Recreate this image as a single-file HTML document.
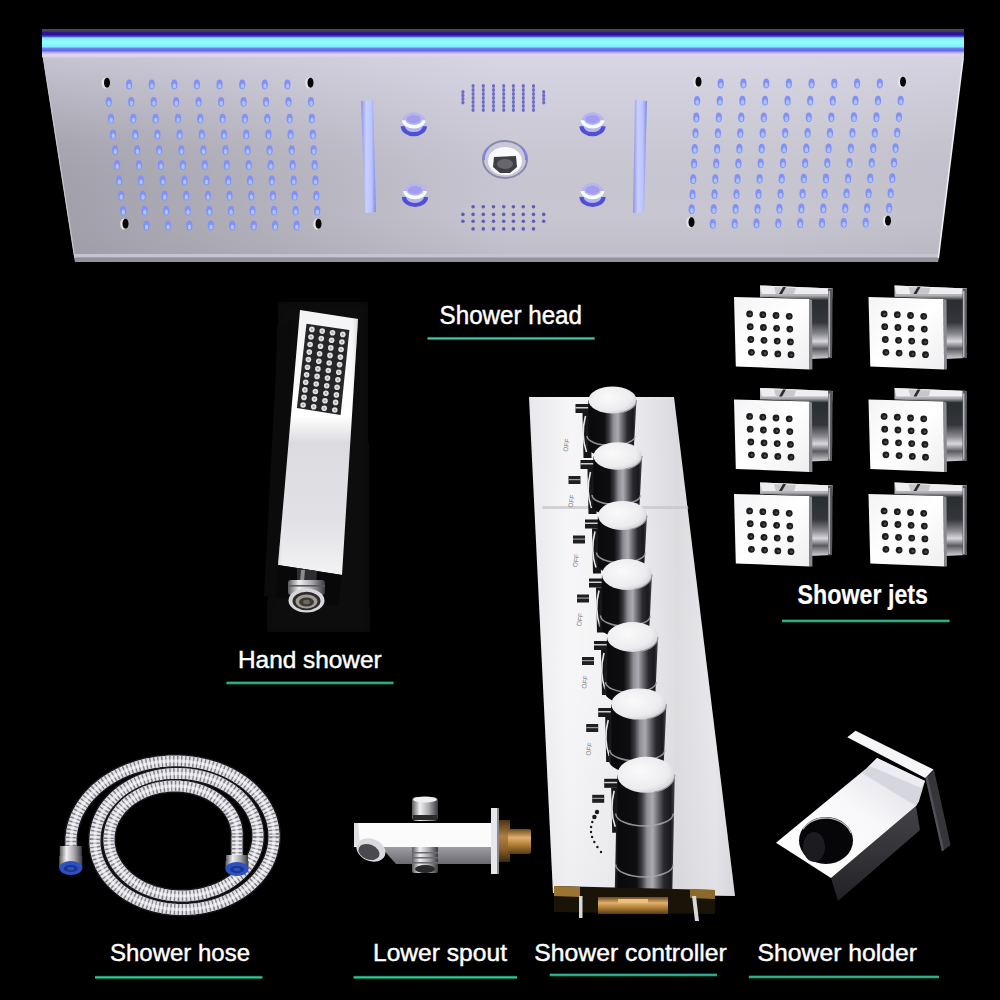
<!DOCTYPE html>
<html><head><meta charset="utf-8"><title>Shower set</title>
<style>
html,body{margin:0;padding:0;background:#000;width:1000px;height:1000px;overflow:hidden}
svg{position:absolute;left:0;top:0;display:block}
.lb{font-family:"Liberation Sans",sans-serif;fill:#fff}
</style></head><body>
<svg width="1000" height="1000" viewBox="0 0 1000 1000">
<defs>
<linearGradient id="panelH" x1="0" y1="0" x2="1" y2="0">
 <stop offset="0" stop-color="#a09ea8"/>
 <stop offset="0.18" stop-color="#aeacb6"/>
 <stop offset="0.5" stop-color="#c8c6d2"/>
 <stop offset="0.8" stop-color="#c8c6d0"/>
 <stop offset="1" stop-color="#c2c0ca"/>
</linearGradient>
<linearGradient id="panelV" x1="0" y1="0" x2="0" y2="1">
 <stop offset="0" stop-color="#e4e2f4" stop-opacity="0.55"/>
 <stop offset="0.4" stop-color="#e0e0f0" stop-opacity="0.12"/>
 <stop offset="0.75" stop-color="#9a98a4" stop-opacity="0"/>
 <stop offset="1" stop-color="#8a8890" stop-opacity="0.18"/>
</linearGradient>
<linearGradient id="strip" x1="0" y1="0" x2="0" y2="1">
 <stop offset="0" stop-color="#4e4a60"/>
 <stop offset="0.08" stop-color="#44385e"/>
 <stop offset="0.12" stop-color="#30188e"/>
 <stop offset="0.2" stop-color="#2a10a0"/>
 <stop offset="0.26" stop-color="#4050d8"/>
 <stop offset="0.31" stop-color="#80e6ff"/>
 <stop offset="0.45" stop-color="#94fffa"/>
 <stop offset="0.62" stop-color="#80f0ff"/>
 <stop offset="0.68" stop-color="#6a80f2"/>
 <stop offset="0.76" stop-color="#6a62ec"/>
 <stop offset="0.83" stop-color="#bab2f0"/>
 <stop offset="0.9" stop-color="#dcd8f0"/>
 <stop offset="1" stop-color="#d4d2e2"/>
</linearGradient>
<radialGradient id="led" cx="0.5" cy="0.6" r="0.6">
 <stop offset="0" stop-color="#b4c8ff"/>
 <stop offset="0.6" stop-color="#8a96ff"/>
 <stop offset="1" stop-color="#8a8cf0" stop-opacity="0.2"/>
</radialGradient>
<linearGradient id="bar" x1="0" y1="0" x2="1" y2="0">
 <stop offset="0" stop-color="#8a90e8"/>
 <stop offset="0.35" stop-color="#c8d0ff"/>
 <stop offset="0.7" stop-color="#bcc4ff"/>
 <stop offset="1" stop-color="#8088e0"/>
</linearGradient>
<radialGradient id="moon" cx="0.5" cy="0.3" r="0.7">
 <stop offset="0" stop-color="#ffffff"/>
 <stop offset="0.5" stop-color="#9aa6ff"/>
 <stop offset="1" stop-color="#4a4ad0"/>
</radialGradient>
<linearGradient id="hsBody" x1="0" y1="0" x2="0" y2="1">
 <stop offset="0" stop-color="#f4f4f6"/>
 <stop offset="0.4" stop-color="#ffffff"/>
 <stop offset="0.5" stop-color="#dcdce0"/>
 <stop offset="0.8" stop-color="#e2e2e6"/>
 <stop offset="1" stop-color="#f2f2f4"/>
</linearGradient>
<radialGradient id="hsDot" cx="0.45" cy="0.45" r="0.6">
 <stop offset="0" stop-color="#9a9a9a"/>
 <stop offset="0.45" stop-color="#e8e8e8"/>
 <stop offset="1" stop-color="#bdbdbd"/>
</radialGradient>
<linearGradient id="ctrl" x1="0" y1="0" x2="1" y2="0">
 <stop offset="0" stop-color="#e8e8ec"/>
 <stop offset="0.2" stop-color="#f6f6f8"/>
 <stop offset="0.5" stop-color="#ececf0"/>
 <stop offset="0.72" stop-color="#dadade"/>
 <stop offset="0.9" stop-color="#e6e6ea"/>
 <stop offset="1" stop-color="#d8d8dc"/>
</linearGradient>
<linearGradient id="knob" x1="0" y1="0" x2="1" y2="0">
 <stop offset="0" stop-color="#2a2a2c"/>
 <stop offset="0.06" stop-color="#0a0a0c"/>
 <stop offset="0.36" stop-color="#0e0e10"/>
 <stop offset="0.45" stop-color="#3a3a40"/>
 <stop offset="0.54" stop-color="#8e8e94"/>
 <stop offset="0.63" stop-color="#aaaab0"/>
 <stop offset="0.72" stop-color="#6a6a70"/>
 <stop offset="0.82" stop-color="#2a2a2e"/>
 <stop offset="0.93" stop-color="#1a1a1e"/>
 <stop offset="1" stop-color="#48484c"/>
</linearGradient>
<radialGradient id="knobTop" cx="0.4" cy="0.4" r="0.7">
 <stop offset="0" stop-color="#fafafa"/>
 <stop offset="0.7" stop-color="#ececef"/>
 <stop offset="1" stop-color="#c8c8cc"/>
</radialGradient>
<linearGradient id="jetBackV" x1="0" y1="0" x2="0" y2="1">
 <stop offset="0" stop-color="#d8d8dc"/>
 <stop offset="0.14" stop-color="#b0b0b4"/>
 <stop offset="0.2" stop-color="#2a2e30"/>
 <stop offset="0.5" stop-color="#34363a"/>
 <stop offset="0.66" stop-color="#8a8a90"/>
 <stop offset="0.76" stop-color="#d8d8dc"/>
 <stop offset="0.86" stop-color="#5a5a60"/>
 <stop offset="1" stop-color="#d0d0d4"/>
</linearGradient>
<linearGradient id="hsBodyH" x1="0" y1="0" x2="1" y2="0">
 <stop offset="0" stop-color="#c0c0c4" stop-opacity="0.5"/>
 <stop offset="0.08" stop-color="#ffffff" stop-opacity="0"/>
 <stop offset="0.9" stop-color="#ffffff" stop-opacity="0"/>
 <stop offset="1" stop-color="#b0b0b4" stop-opacity="0.5"/>
</linearGradient>
<linearGradient id="ctrlV" x1="0" y1="0" x2="0" y2="1">
 <stop offset="0" stop-color="#ffffff" stop-opacity="0"/>
 <stop offset="0.5" stop-color="#ffffff" stop-opacity="0.1"/>
 <stop offset="1" stop-color="#d0d0d4" stop-opacity="0.2"/>
</linearGradient>
<linearGradient id="spoutUnder" x1="0" y1="0" x2="0" y2="1">
 <stop offset="0" stop-color="#a0a0a6"/>
 <stop offset="1" stop-color="#6a6a70"/>
</linearGradient>
<linearGradient id="brassD" x1="0" y1="0" x2="0" y2="1">
 <stop offset="0" stop-color="#4a3412"/>
 <stop offset="0.4" stop-color="#b08040"/>
 <stop offset="0.7" stop-color="#8a6028"/>
 <stop offset="1" stop-color="#3a280c"/>
</linearGradient>
<linearGradient id="jetFace" x1="0" y1="0" x2="1" y2="1">
 <stop offset="0" stop-color="#f4f4f6"/>
 <stop offset="0.5" stop-color="#ffffff"/>
 <stop offset="1" stop-color="#eeeef0"/>
</linearGradient>
<linearGradient id="brass" x1="0" y1="0" x2="0" y2="1">
 <stop offset="0" stop-color="#6a4a1c"/>
 <stop offset="0.35" stop-color="#e0b070"/>
 <stop offset="0.6" stop-color="#b8843a"/>
 <stop offset="1" stop-color="#5a3c14"/>
</linearGradient>
<linearGradient id="chromeV" x1="0" y1="0" x2="0" y2="1">
 <stop offset="0" stop-color="#6a6a6e"/>
 <stop offset="0.3" stop-color="#f4f4f6"/>
 <stop offset="0.6" stop-color="#b4b4b8"/>
 <stop offset="1" stop-color="#4a4a4e"/>
</linearGradient>
<linearGradient id="chromeH" x1="0" y1="0" x2="1" y2="0">
 <stop offset="0" stop-color="#5a5a5e"/>
 <stop offset="0.3" stop-color="#f0f0f2"/>
 <stop offset="0.65" stop-color="#a8a8ac"/>
 <stop offset="1" stop-color="#3a3a3e"/>
</linearGradient>
<linearGradient id="holderTop" x1="0" y1="1" x2="1" y2="0">
 <stop offset="0" stop-color="#ffffff"/>
 <stop offset="0.6" stop-color="#f8f8fa"/>
 <stop offset="1" stop-color="#dcdce4"/>
</linearGradient>
<linearGradient id="holderFront" x1="0" y1="0" x2="0" y2="1">
 <stop offset="0" stop-color="#424246"/>
 <stop offset="0.5" stop-color="#343438"/>
 <stop offset="1" stop-color="#222226"/>
</linearGradient>
<linearGradient id="gline" x1="0" y1="0" x2="0" y2="1">
 <stop offset="0" stop-color="#10604a"/>
 <stop offset="0.3" stop-color="#2aa888"/>
 <stop offset="0.5" stop-color="#4cc8a8"/>
 <stop offset="0.75" stop-color="#12905e"/>
 <stop offset="1" stop-color="#05502e"/>
</linearGradient>
<filter id="soft" x="-20%" y="-20%" width="140%" height="140%"><feGaussianBlur stdDeviation="6"/></filter>
</defs>
<rect width="1000" height="1000" fill="#000"/>

<polygon points="43,57 963,57 938,262 75,262" fill="url(#panelH)"/>
<polygon points="43,57 963,57 938,262 75,262" fill="url(#panelV)"/>
<polygon points="74.1,254 938.8,254 938.5,257.5 74.7,257.5" fill="#c6c4ce"/>
<polygon points="74.7,257.5 938.5,257.5 938,262 75,262" fill="#94929c"/>
<rect x="42" y="29" width="922" height="28.5" fill="url(#strip)"/>
<path d="M963.2,57.5 L938.3,258" stroke="#eeeef4" stroke-width="1.6" fill="none"/>
<path d="M43.3,57.5 L74.8,258" stroke="#c8c6ce" stroke-width="1.2" fill="none"/>
<ellipse cx="105.3" cy="83.0" rx="3.6" ry="5.6" fill="#e4e4ea"/>
<ellipse cx="107.0" cy="82.7" rx="3" ry="5" fill="#060606"/>
<ellipse cx="129.1" cy="84.5" rx="3.1" ry="4.9" fill="#8490fa"/>
<ellipse cx="129.3" cy="86.0" rx="1.7" ry="2.6" fill="#a8c6ff"/>
<ellipse cx="151.7" cy="84.5" rx="3.1" ry="4.9" fill="#8490fa"/>
<ellipse cx="151.9" cy="86.0" rx="1.7" ry="2.6" fill="#a8c6ff"/>
<ellipse cx="174.3" cy="84.5" rx="3.1" ry="4.9" fill="#8490fa"/>
<ellipse cx="174.5" cy="86.0" rx="1.7" ry="2.6" fill="#a8c6ff"/>
<ellipse cx="196.9" cy="84.5" rx="3.1" ry="4.9" fill="#8490fa"/>
<ellipse cx="197.1" cy="86.0" rx="1.7" ry="2.6" fill="#a8c6ff"/>
<ellipse cx="219.6" cy="84.5" rx="3.1" ry="4.9" fill="#8490fa"/>
<ellipse cx="219.8" cy="86.0" rx="1.7" ry="2.6" fill="#a8c6ff"/>
<ellipse cx="242.2" cy="84.5" rx="3.1" ry="4.9" fill="#8490fa"/>
<ellipse cx="242.4" cy="86.0" rx="1.7" ry="2.6" fill="#a8c6ff"/>
<ellipse cx="264.8" cy="84.5" rx="3.1" ry="4.9" fill="#8490fa"/>
<ellipse cx="265.0" cy="86.0" rx="1.7" ry="2.6" fill="#a8c6ff"/>
<ellipse cx="287.4" cy="84.5" rx="3.1" ry="4.9" fill="#8490fa"/>
<ellipse cx="287.6" cy="86.0" rx="1.7" ry="2.6" fill="#a8c6ff"/>
<ellipse cx="308.8" cy="83.0" rx="3.6" ry="5.6" fill="#e4e4ea"/>
<ellipse cx="310.5" cy="82.7" rx="3" ry="5" fill="#060606"/>
<ellipse cx="108.8" cy="101.8" rx="3.1" ry="4.9" fill="#8490fa"/>
<ellipse cx="109.0" cy="103.3" rx="1.7" ry="2.6" fill="#a8c6ff"/>
<ellipse cx="131.2" cy="101.8" rx="3.1" ry="4.9" fill="#8490fa"/>
<ellipse cx="131.4" cy="103.3" rx="1.7" ry="2.6" fill="#a8c6ff"/>
<ellipse cx="153.7" cy="101.8" rx="3.1" ry="4.9" fill="#8490fa"/>
<ellipse cx="153.9" cy="103.3" rx="1.7" ry="2.6" fill="#a8c6ff"/>
<ellipse cx="176.2" cy="101.8" rx="3.1" ry="4.9" fill="#8490fa"/>
<ellipse cx="176.4" cy="103.3" rx="1.7" ry="2.6" fill="#a8c6ff"/>
<ellipse cx="198.6" cy="101.8" rx="3.1" ry="4.9" fill="#8490fa"/>
<ellipse cx="198.8" cy="103.3" rx="1.7" ry="2.6" fill="#a8c6ff"/>
<ellipse cx="221.1" cy="101.8" rx="3.1" ry="4.9" fill="#8490fa"/>
<ellipse cx="221.3" cy="103.3" rx="1.7" ry="2.6" fill="#a8c6ff"/>
<ellipse cx="243.6" cy="101.8" rx="3.1" ry="4.9" fill="#8490fa"/>
<ellipse cx="243.8" cy="103.3" rx="1.7" ry="2.6" fill="#a8c6ff"/>
<ellipse cx="266.0" cy="101.8" rx="3.1" ry="4.9" fill="#8490fa"/>
<ellipse cx="266.2" cy="103.3" rx="1.7" ry="2.6" fill="#a8c6ff"/>
<ellipse cx="288.5" cy="101.8" rx="3.1" ry="4.9" fill="#8490fa"/>
<ellipse cx="288.7" cy="103.3" rx="1.7" ry="2.6" fill="#a8c6ff"/>
<ellipse cx="311.0" cy="101.8" rx="3.1" ry="4.9" fill="#8490fa"/>
<ellipse cx="311.2" cy="103.3" rx="1.7" ry="2.6" fill="#a8c6ff"/>
<ellipse cx="111.0" cy="118.6" rx="3.1" ry="4.9" fill="#8490fa"/>
<ellipse cx="111.2" cy="120.1" rx="1.7" ry="2.6" fill="#a8c6ff"/>
<ellipse cx="133.3" cy="118.6" rx="3.1" ry="4.9" fill="#8490fa"/>
<ellipse cx="133.5" cy="120.1" rx="1.7" ry="2.6" fill="#a8c6ff"/>
<ellipse cx="155.6" cy="118.6" rx="3.1" ry="4.9" fill="#8490fa"/>
<ellipse cx="155.8" cy="120.1" rx="1.7" ry="2.6" fill="#a8c6ff"/>
<ellipse cx="178.0" cy="118.6" rx="3.1" ry="4.9" fill="#8490fa"/>
<ellipse cx="178.2" cy="120.1" rx="1.7" ry="2.6" fill="#a8c6ff"/>
<ellipse cx="200.3" cy="118.6" rx="3.1" ry="4.9" fill="#8490fa"/>
<ellipse cx="200.5" cy="120.1" rx="1.7" ry="2.6" fill="#a8c6ff"/>
<ellipse cx="222.6" cy="118.6" rx="3.1" ry="4.9" fill="#8490fa"/>
<ellipse cx="222.8" cy="120.1" rx="1.7" ry="2.6" fill="#a8c6ff"/>
<ellipse cx="244.9" cy="118.6" rx="3.1" ry="4.9" fill="#8490fa"/>
<ellipse cx="245.1" cy="120.1" rx="1.7" ry="2.6" fill="#a8c6ff"/>
<ellipse cx="267.3" cy="118.6" rx="3.1" ry="4.9" fill="#8490fa"/>
<ellipse cx="267.5" cy="120.1" rx="1.7" ry="2.6" fill="#a8c6ff"/>
<ellipse cx="289.6" cy="118.6" rx="3.1" ry="4.9" fill="#8490fa"/>
<ellipse cx="289.8" cy="120.1" rx="1.7" ry="2.6" fill="#a8c6ff"/>
<ellipse cx="311.9" cy="118.6" rx="3.1" ry="4.9" fill="#8490fa"/>
<ellipse cx="312.1" cy="120.1" rx="1.7" ry="2.6" fill="#a8c6ff"/>
<ellipse cx="113.0" cy="134.4" rx="3.1" ry="4.9" fill="#8490fa"/>
<ellipse cx="113.2" cy="135.9" rx="1.7" ry="2.6" fill="#a8c6ff"/>
<ellipse cx="135.2" cy="134.4" rx="3.1" ry="4.9" fill="#8490fa"/>
<ellipse cx="135.4" cy="135.9" rx="1.7" ry="2.6" fill="#a8c6ff"/>
<ellipse cx="157.4" cy="134.4" rx="3.1" ry="4.9" fill="#8490fa"/>
<ellipse cx="157.6" cy="135.9" rx="1.7" ry="2.6" fill="#a8c6ff"/>
<ellipse cx="179.6" cy="134.4" rx="3.1" ry="4.9" fill="#8490fa"/>
<ellipse cx="179.8" cy="135.9" rx="1.7" ry="2.6" fill="#a8c6ff"/>
<ellipse cx="201.8" cy="134.4" rx="3.1" ry="4.9" fill="#8490fa"/>
<ellipse cx="202.0" cy="135.9" rx="1.7" ry="2.6" fill="#a8c6ff"/>
<ellipse cx="224.0" cy="134.4" rx="3.1" ry="4.9" fill="#8490fa"/>
<ellipse cx="224.2" cy="135.9" rx="1.7" ry="2.6" fill="#a8c6ff"/>
<ellipse cx="246.2" cy="134.4" rx="3.1" ry="4.9" fill="#8490fa"/>
<ellipse cx="246.4" cy="135.9" rx="1.7" ry="2.6" fill="#a8c6ff"/>
<ellipse cx="268.4" cy="134.4" rx="3.1" ry="4.9" fill="#8490fa"/>
<ellipse cx="268.6" cy="135.9" rx="1.7" ry="2.6" fill="#a8c6ff"/>
<ellipse cx="290.6" cy="134.4" rx="3.1" ry="4.9" fill="#8490fa"/>
<ellipse cx="290.8" cy="135.9" rx="1.7" ry="2.6" fill="#a8c6ff"/>
<ellipse cx="312.8" cy="134.4" rx="3.1" ry="4.9" fill="#8490fa"/>
<ellipse cx="313.0" cy="135.9" rx="1.7" ry="2.6" fill="#a8c6ff"/>
<ellipse cx="115.1" cy="150.1" rx="3.1" ry="4.9" fill="#8490fa"/>
<ellipse cx="115.3" cy="151.6" rx="1.7" ry="2.6" fill="#a8c6ff"/>
<ellipse cx="137.2" cy="150.1" rx="3.1" ry="4.9" fill="#8490fa"/>
<ellipse cx="137.4" cy="151.6" rx="1.7" ry="2.6" fill="#a8c6ff"/>
<ellipse cx="159.2" cy="150.1" rx="3.1" ry="4.9" fill="#8490fa"/>
<ellipse cx="159.4" cy="151.6" rx="1.7" ry="2.6" fill="#a8c6ff"/>
<ellipse cx="181.3" cy="150.1" rx="3.1" ry="4.9" fill="#8490fa"/>
<ellipse cx="181.5" cy="151.6" rx="1.7" ry="2.6" fill="#a8c6ff"/>
<ellipse cx="203.4" cy="150.1" rx="3.1" ry="4.9" fill="#8490fa"/>
<ellipse cx="203.6" cy="151.6" rx="1.7" ry="2.6" fill="#a8c6ff"/>
<ellipse cx="225.4" cy="150.1" rx="3.1" ry="4.9" fill="#8490fa"/>
<ellipse cx="225.6" cy="151.6" rx="1.7" ry="2.6" fill="#a8c6ff"/>
<ellipse cx="247.5" cy="150.1" rx="3.1" ry="4.9" fill="#8490fa"/>
<ellipse cx="247.7" cy="151.6" rx="1.7" ry="2.6" fill="#a8c6ff"/>
<ellipse cx="269.6" cy="150.1" rx="3.1" ry="4.9" fill="#8490fa"/>
<ellipse cx="269.8" cy="151.6" rx="1.7" ry="2.6" fill="#a8c6ff"/>
<ellipse cx="291.7" cy="150.1" rx="3.1" ry="4.9" fill="#8490fa"/>
<ellipse cx="291.9" cy="151.6" rx="1.7" ry="2.6" fill="#a8c6ff"/>
<ellipse cx="313.7" cy="150.1" rx="3.1" ry="4.9" fill="#8490fa"/>
<ellipse cx="313.9" cy="151.6" rx="1.7" ry="2.6" fill="#a8c6ff"/>
<ellipse cx="117.0" cy="164.9" rx="3.1" ry="4.9" fill="#8490fa"/>
<ellipse cx="117.2" cy="166.4" rx="1.7" ry="2.6" fill="#a8c6ff"/>
<ellipse cx="139.0" cy="164.9" rx="3.1" ry="4.9" fill="#8490fa"/>
<ellipse cx="139.2" cy="166.4" rx="1.7" ry="2.6" fill="#a8c6ff"/>
<ellipse cx="160.9" cy="164.9" rx="3.1" ry="4.9" fill="#8490fa"/>
<ellipse cx="161.1" cy="166.4" rx="1.7" ry="2.6" fill="#a8c6ff"/>
<ellipse cx="182.9" cy="164.9" rx="3.1" ry="4.9" fill="#8490fa"/>
<ellipse cx="183.1" cy="166.4" rx="1.7" ry="2.6" fill="#a8c6ff"/>
<ellipse cx="204.8" cy="164.9" rx="3.1" ry="4.9" fill="#8490fa"/>
<ellipse cx="205.0" cy="166.4" rx="1.7" ry="2.6" fill="#a8c6ff"/>
<ellipse cx="226.8" cy="164.9" rx="3.1" ry="4.9" fill="#8490fa"/>
<ellipse cx="227.0" cy="166.4" rx="1.7" ry="2.6" fill="#a8c6ff"/>
<ellipse cx="248.7" cy="164.9" rx="3.1" ry="4.9" fill="#8490fa"/>
<ellipse cx="248.9" cy="166.4" rx="1.7" ry="2.6" fill="#a8c6ff"/>
<ellipse cx="270.7" cy="164.9" rx="3.1" ry="4.9" fill="#8490fa"/>
<ellipse cx="270.9" cy="166.4" rx="1.7" ry="2.6" fill="#a8c6ff"/>
<ellipse cx="292.6" cy="164.9" rx="3.1" ry="4.9" fill="#8490fa"/>
<ellipse cx="292.8" cy="166.4" rx="1.7" ry="2.6" fill="#a8c6ff"/>
<ellipse cx="314.6" cy="164.9" rx="3.1" ry="4.9" fill="#8490fa"/>
<ellipse cx="314.8" cy="166.4" rx="1.7" ry="2.6" fill="#a8c6ff"/>
<ellipse cx="119.1" cy="180.5" rx="3.1" ry="4.9" fill="#8490fa"/>
<ellipse cx="119.3" cy="182.0" rx="1.7" ry="2.6" fill="#a8c6ff"/>
<ellipse cx="140.9" cy="180.5" rx="3.1" ry="4.9" fill="#8490fa"/>
<ellipse cx="141.1" cy="182.0" rx="1.7" ry="2.6" fill="#a8c6ff"/>
<ellipse cx="162.7" cy="180.5" rx="3.1" ry="4.9" fill="#8490fa"/>
<ellipse cx="162.9" cy="182.0" rx="1.7" ry="2.6" fill="#a8c6ff"/>
<ellipse cx="184.5" cy="180.5" rx="3.1" ry="4.9" fill="#8490fa"/>
<ellipse cx="184.7" cy="182.0" rx="1.7" ry="2.6" fill="#a8c6ff"/>
<ellipse cx="206.4" cy="180.5" rx="3.1" ry="4.9" fill="#8490fa"/>
<ellipse cx="206.6" cy="182.0" rx="1.7" ry="2.6" fill="#a8c6ff"/>
<ellipse cx="228.2" cy="180.5" rx="3.1" ry="4.9" fill="#8490fa"/>
<ellipse cx="228.4" cy="182.0" rx="1.7" ry="2.6" fill="#a8c6ff"/>
<ellipse cx="250.0" cy="180.5" rx="3.1" ry="4.9" fill="#8490fa"/>
<ellipse cx="250.2" cy="182.0" rx="1.7" ry="2.6" fill="#a8c6ff"/>
<ellipse cx="271.8" cy="180.5" rx="3.1" ry="4.9" fill="#8490fa"/>
<ellipse cx="272.0" cy="182.0" rx="1.7" ry="2.6" fill="#a8c6ff"/>
<ellipse cx="293.6" cy="180.5" rx="3.1" ry="4.9" fill="#8490fa"/>
<ellipse cx="293.8" cy="182.0" rx="1.7" ry="2.6" fill="#a8c6ff"/>
<ellipse cx="315.4" cy="180.5" rx="3.1" ry="4.9" fill="#8490fa"/>
<ellipse cx="315.6" cy="182.0" rx="1.7" ry="2.6" fill="#a8c6ff"/>
<ellipse cx="121.1" cy="195.7" rx="3.1" ry="4.9" fill="#8490fa"/>
<ellipse cx="121.3" cy="197.2" rx="1.7" ry="2.6" fill="#a8c6ff"/>
<ellipse cx="142.8" cy="195.7" rx="3.1" ry="4.9" fill="#8490fa"/>
<ellipse cx="143.0" cy="197.2" rx="1.7" ry="2.6" fill="#a8c6ff"/>
<ellipse cx="164.5" cy="195.7" rx="3.1" ry="4.9" fill="#8490fa"/>
<ellipse cx="164.7" cy="197.2" rx="1.7" ry="2.6" fill="#a8c6ff"/>
<ellipse cx="186.2" cy="195.7" rx="3.1" ry="4.9" fill="#8490fa"/>
<ellipse cx="186.4" cy="197.2" rx="1.7" ry="2.6" fill="#a8c6ff"/>
<ellipse cx="207.9" cy="195.7" rx="3.1" ry="4.9" fill="#8490fa"/>
<ellipse cx="208.1" cy="197.2" rx="1.7" ry="2.6" fill="#a8c6ff"/>
<ellipse cx="229.5" cy="195.7" rx="3.1" ry="4.9" fill="#8490fa"/>
<ellipse cx="229.7" cy="197.2" rx="1.7" ry="2.6" fill="#a8c6ff"/>
<ellipse cx="251.2" cy="195.7" rx="3.1" ry="4.9" fill="#8490fa"/>
<ellipse cx="251.4" cy="197.2" rx="1.7" ry="2.6" fill="#a8c6ff"/>
<ellipse cx="272.9" cy="195.7" rx="3.1" ry="4.9" fill="#8490fa"/>
<ellipse cx="273.1" cy="197.2" rx="1.7" ry="2.6" fill="#a8c6ff"/>
<ellipse cx="294.6" cy="195.7" rx="3.1" ry="4.9" fill="#8490fa"/>
<ellipse cx="294.8" cy="197.2" rx="1.7" ry="2.6" fill="#a8c6ff"/>
<ellipse cx="316.3" cy="195.7" rx="3.1" ry="4.9" fill="#8490fa"/>
<ellipse cx="316.5" cy="197.2" rx="1.7" ry="2.6" fill="#a8c6ff"/>
<ellipse cx="123.1" cy="210.7" rx="3.1" ry="4.9" fill="#8490fa"/>
<ellipse cx="123.3" cy="212.2" rx="1.7" ry="2.6" fill="#a8c6ff"/>
<ellipse cx="144.6" cy="210.7" rx="3.1" ry="4.9" fill="#8490fa"/>
<ellipse cx="144.8" cy="212.2" rx="1.7" ry="2.6" fill="#a8c6ff"/>
<ellipse cx="166.2" cy="210.7" rx="3.1" ry="4.9" fill="#8490fa"/>
<ellipse cx="166.4" cy="212.2" rx="1.7" ry="2.6" fill="#a8c6ff"/>
<ellipse cx="187.8" cy="210.7" rx="3.1" ry="4.9" fill="#8490fa"/>
<ellipse cx="188.0" cy="212.2" rx="1.7" ry="2.6" fill="#a8c6ff"/>
<ellipse cx="209.3" cy="210.7" rx="3.1" ry="4.9" fill="#8490fa"/>
<ellipse cx="209.5" cy="212.2" rx="1.7" ry="2.6" fill="#a8c6ff"/>
<ellipse cx="230.9" cy="210.7" rx="3.1" ry="4.9" fill="#8490fa"/>
<ellipse cx="231.1" cy="212.2" rx="1.7" ry="2.6" fill="#a8c6ff"/>
<ellipse cx="252.5" cy="210.7" rx="3.1" ry="4.9" fill="#8490fa"/>
<ellipse cx="252.7" cy="212.2" rx="1.7" ry="2.6" fill="#a8c6ff"/>
<ellipse cx="274.0" cy="210.7" rx="3.1" ry="4.9" fill="#8490fa"/>
<ellipse cx="274.2" cy="212.2" rx="1.7" ry="2.6" fill="#a8c6ff"/>
<ellipse cx="295.6" cy="210.7" rx="3.1" ry="4.9" fill="#8490fa"/>
<ellipse cx="295.8" cy="212.2" rx="1.7" ry="2.6" fill="#a8c6ff"/>
<ellipse cx="317.2" cy="210.7" rx="3.1" ry="4.9" fill="#8490fa"/>
<ellipse cx="317.4" cy="212.2" rx="1.7" ry="2.6" fill="#a8c6ff"/>
<ellipse cx="123.8" cy="224.0" rx="3.6" ry="5.6" fill="#e4e4ea"/>
<ellipse cx="125.5" cy="223.7" rx="3" ry="5" fill="#060606"/>
<ellipse cx="146.4" cy="225.5" rx="3.1" ry="4.9" fill="#8490fa"/>
<ellipse cx="146.6" cy="227.0" rx="1.7" ry="2.6" fill="#a8c6ff"/>
<ellipse cx="167.9" cy="225.5" rx="3.1" ry="4.9" fill="#8490fa"/>
<ellipse cx="168.1" cy="227.0" rx="1.7" ry="2.6" fill="#a8c6ff"/>
<ellipse cx="189.3" cy="225.5" rx="3.1" ry="4.9" fill="#8490fa"/>
<ellipse cx="189.5" cy="227.0" rx="1.7" ry="2.6" fill="#a8c6ff"/>
<ellipse cx="210.8" cy="225.5" rx="3.1" ry="4.9" fill="#8490fa"/>
<ellipse cx="211.0" cy="227.0" rx="1.7" ry="2.6" fill="#a8c6ff"/>
<ellipse cx="232.2" cy="225.5" rx="3.1" ry="4.9" fill="#8490fa"/>
<ellipse cx="232.4" cy="227.0" rx="1.7" ry="2.6" fill="#a8c6ff"/>
<ellipse cx="253.7" cy="225.5" rx="3.1" ry="4.9" fill="#8490fa"/>
<ellipse cx="253.9" cy="227.0" rx="1.7" ry="2.6" fill="#a8c6ff"/>
<ellipse cx="275.1" cy="225.5" rx="3.1" ry="4.9" fill="#8490fa"/>
<ellipse cx="275.3" cy="227.0" rx="1.7" ry="2.6" fill="#a8c6ff"/>
<ellipse cx="296.6" cy="225.5" rx="3.1" ry="4.9" fill="#8490fa"/>
<ellipse cx="296.8" cy="227.0" rx="1.7" ry="2.6" fill="#a8c6ff"/>
<ellipse cx="316.8" cy="224.0" rx="3.6" ry="5.6" fill="#e4e4ea"/>
<ellipse cx="318.5" cy="223.7" rx="3" ry="5" fill="#060606"/>
<ellipse cx="696.8" cy="82.0" rx="3.6" ry="5.6" fill="#e4e4ea"/>
<ellipse cx="698.5" cy="81.7" rx="3" ry="5" fill="#060606"/>
<ellipse cx="720.7" cy="83.5" rx="3.1" ry="4.9" fill="#8490fa"/>
<ellipse cx="720.9" cy="85.0" rx="1.7" ry="2.6" fill="#a8c6ff"/>
<ellipse cx="743.4" cy="83.5" rx="3.1" ry="4.9" fill="#8490fa"/>
<ellipse cx="743.6" cy="85.0" rx="1.7" ry="2.6" fill="#a8c6ff"/>
<ellipse cx="766.2" cy="83.5" rx="3.1" ry="4.9" fill="#8490fa"/>
<ellipse cx="766.4" cy="85.0" rx="1.7" ry="2.6" fill="#a8c6ff"/>
<ellipse cx="788.9" cy="83.5" rx="3.1" ry="4.9" fill="#8490fa"/>
<ellipse cx="789.1" cy="85.0" rx="1.7" ry="2.6" fill="#a8c6ff"/>
<ellipse cx="811.6" cy="83.5" rx="3.1" ry="4.9" fill="#8490fa"/>
<ellipse cx="811.8" cy="85.0" rx="1.7" ry="2.6" fill="#a8c6ff"/>
<ellipse cx="834.3" cy="83.5" rx="3.1" ry="4.9" fill="#8490fa"/>
<ellipse cx="834.5" cy="85.0" rx="1.7" ry="2.6" fill="#a8c6ff"/>
<ellipse cx="857.1" cy="83.5" rx="3.1" ry="4.9" fill="#8490fa"/>
<ellipse cx="857.3" cy="85.0" rx="1.7" ry="2.6" fill="#a8c6ff"/>
<ellipse cx="879.8" cy="83.5" rx="3.1" ry="4.9" fill="#8490fa"/>
<ellipse cx="880.0" cy="85.0" rx="1.7" ry="2.6" fill="#a8c6ff"/>
<ellipse cx="901.3" cy="82.0" rx="3.6" ry="5.6" fill="#e4e4ea"/>
<ellipse cx="903.0" cy="81.7" rx="3" ry="5" fill="#060606"/>
<ellipse cx="697.1" cy="100.8" rx="3.1" ry="4.9" fill="#8490fa"/>
<ellipse cx="697.3" cy="102.3" rx="1.7" ry="2.6" fill="#a8c6ff"/>
<ellipse cx="719.8" cy="100.8" rx="3.1" ry="4.9" fill="#8490fa"/>
<ellipse cx="720.0" cy="102.3" rx="1.7" ry="2.6" fill="#a8c6ff"/>
<ellipse cx="742.4" cy="100.7" rx="3.1" ry="4.9" fill="#8490fa"/>
<ellipse cx="742.6" cy="102.2" rx="1.7" ry="2.6" fill="#a8c6ff"/>
<ellipse cx="765.0" cy="100.7" rx="3.1" ry="4.9" fill="#8490fa"/>
<ellipse cx="765.2" cy="102.2" rx="1.7" ry="2.6" fill="#a8c6ff"/>
<ellipse cx="787.6" cy="100.7" rx="3.1" ry="4.9" fill="#8490fa"/>
<ellipse cx="787.8" cy="102.2" rx="1.7" ry="2.6" fill="#a8c6ff"/>
<ellipse cx="810.2" cy="100.7" rx="3.1" ry="4.9" fill="#8490fa"/>
<ellipse cx="810.4" cy="102.2" rx="1.7" ry="2.6" fill="#a8c6ff"/>
<ellipse cx="832.8" cy="100.7" rx="3.1" ry="4.9" fill="#8490fa"/>
<ellipse cx="833.0" cy="102.2" rx="1.7" ry="2.6" fill="#a8c6ff"/>
<ellipse cx="855.4" cy="100.6" rx="3.1" ry="4.9" fill="#8490fa"/>
<ellipse cx="855.6" cy="102.1" rx="1.7" ry="2.6" fill="#a8c6ff"/>
<ellipse cx="878.0" cy="100.6" rx="3.1" ry="4.9" fill="#8490fa"/>
<ellipse cx="878.2" cy="102.1" rx="1.7" ry="2.6" fill="#a8c6ff"/>
<ellipse cx="900.7" cy="100.6" rx="3.1" ry="4.9" fill="#8490fa"/>
<ellipse cx="900.9" cy="102.1" rx="1.7" ry="2.6" fill="#a8c6ff"/>
<ellipse cx="696.3" cy="117.5" rx="3.1" ry="4.9" fill="#8490fa"/>
<ellipse cx="696.5" cy="119.0" rx="1.7" ry="2.6" fill="#a8c6ff"/>
<ellipse cx="718.8" cy="117.5" rx="3.1" ry="4.9" fill="#8490fa"/>
<ellipse cx="719.0" cy="119.0" rx="1.7" ry="2.6" fill="#a8c6ff"/>
<ellipse cx="741.3" cy="117.4" rx="3.1" ry="4.9" fill="#8490fa"/>
<ellipse cx="741.5" cy="118.9" rx="1.7" ry="2.6" fill="#a8c6ff"/>
<ellipse cx="763.8" cy="117.4" rx="3.1" ry="4.9" fill="#8490fa"/>
<ellipse cx="764.0" cy="118.9" rx="1.7" ry="2.6" fill="#a8c6ff"/>
<ellipse cx="786.3" cy="117.3" rx="3.1" ry="4.9" fill="#8490fa"/>
<ellipse cx="786.5" cy="118.8" rx="1.7" ry="2.6" fill="#a8c6ff"/>
<ellipse cx="808.8" cy="117.3" rx="3.1" ry="4.9" fill="#8490fa"/>
<ellipse cx="809.0" cy="118.8" rx="1.7" ry="2.6" fill="#a8c6ff"/>
<ellipse cx="831.3" cy="117.3" rx="3.1" ry="4.9" fill="#8490fa"/>
<ellipse cx="831.5" cy="118.8" rx="1.7" ry="2.6" fill="#a8c6ff"/>
<ellipse cx="853.9" cy="117.2" rx="3.1" ry="4.9" fill="#8490fa"/>
<ellipse cx="854.1" cy="118.7" rx="1.7" ry="2.6" fill="#a8c6ff"/>
<ellipse cx="876.4" cy="117.2" rx="3.1" ry="4.9" fill="#8490fa"/>
<ellipse cx="876.6" cy="118.7" rx="1.7" ry="2.6" fill="#a8c6ff"/>
<ellipse cx="898.9" cy="117.1" rx="3.1" ry="4.9" fill="#8490fa"/>
<ellipse cx="899.1" cy="118.6" rx="1.7" ry="2.6" fill="#a8c6ff"/>
<ellipse cx="695.5" cy="133.2" rx="3.1" ry="4.9" fill="#8490fa"/>
<ellipse cx="695.7" cy="134.7" rx="1.7" ry="2.6" fill="#a8c6ff"/>
<ellipse cx="717.9" cy="133.2" rx="3.1" ry="4.9" fill="#8490fa"/>
<ellipse cx="718.1" cy="134.7" rx="1.7" ry="2.6" fill="#a8c6ff"/>
<ellipse cx="740.3" cy="133.1" rx="3.1" ry="4.9" fill="#8490fa"/>
<ellipse cx="740.5" cy="134.6" rx="1.7" ry="2.6" fill="#a8c6ff"/>
<ellipse cx="762.7" cy="133.1" rx="3.1" ry="4.9" fill="#8490fa"/>
<ellipse cx="762.9" cy="134.6" rx="1.7" ry="2.6" fill="#a8c6ff"/>
<ellipse cx="785.2" cy="133.0" rx="3.1" ry="4.9" fill="#8490fa"/>
<ellipse cx="785.4" cy="134.5" rx="1.7" ry="2.6" fill="#a8c6ff"/>
<ellipse cx="807.6" cy="132.9" rx="3.1" ry="4.9" fill="#8490fa"/>
<ellipse cx="807.8" cy="134.4" rx="1.7" ry="2.6" fill="#a8c6ff"/>
<ellipse cx="830.0" cy="132.9" rx="3.1" ry="4.9" fill="#8490fa"/>
<ellipse cx="830.2" cy="134.4" rx="1.7" ry="2.6" fill="#a8c6ff"/>
<ellipse cx="852.4" cy="132.8" rx="3.1" ry="4.9" fill="#8490fa"/>
<ellipse cx="852.6" cy="134.3" rx="1.7" ry="2.6" fill="#a8c6ff"/>
<ellipse cx="874.8" cy="132.8" rx="3.1" ry="4.9" fill="#8490fa"/>
<ellipse cx="875.0" cy="134.3" rx="1.7" ry="2.6" fill="#a8c6ff"/>
<ellipse cx="897.2" cy="132.7" rx="3.1" ry="4.9" fill="#8490fa"/>
<ellipse cx="897.4" cy="134.2" rx="1.7" ry="2.6" fill="#a8c6ff"/>
<ellipse cx="694.7" cy="148.8" rx="3.1" ry="4.9" fill="#8490fa"/>
<ellipse cx="694.9" cy="150.3" rx="1.7" ry="2.6" fill="#a8c6ff"/>
<ellipse cx="717.1" cy="148.8" rx="3.1" ry="4.9" fill="#8490fa"/>
<ellipse cx="717.3" cy="150.3" rx="1.7" ry="2.6" fill="#a8c6ff"/>
<ellipse cx="739.4" cy="148.7" rx="3.1" ry="4.9" fill="#8490fa"/>
<ellipse cx="739.6" cy="150.2" rx="1.7" ry="2.6" fill="#a8c6ff"/>
<ellipse cx="761.7" cy="148.6" rx="3.1" ry="4.9" fill="#8490fa"/>
<ellipse cx="761.9" cy="150.1" rx="1.7" ry="2.6" fill="#a8c6ff"/>
<ellipse cx="784.0" cy="148.5" rx="3.1" ry="4.9" fill="#8490fa"/>
<ellipse cx="784.2" cy="150.0" rx="1.7" ry="2.6" fill="#a8c6ff"/>
<ellipse cx="806.3" cy="148.4" rx="3.1" ry="4.9" fill="#8490fa"/>
<ellipse cx="806.5" cy="149.9" rx="1.7" ry="2.6" fill="#a8c6ff"/>
<ellipse cx="828.6" cy="148.4" rx="3.1" ry="4.9" fill="#8490fa"/>
<ellipse cx="828.8" cy="149.9" rx="1.7" ry="2.6" fill="#a8c6ff"/>
<ellipse cx="850.9" cy="148.3" rx="3.1" ry="4.9" fill="#8490fa"/>
<ellipse cx="851.1" cy="149.8" rx="1.7" ry="2.6" fill="#a8c6ff"/>
<ellipse cx="873.2" cy="148.2" rx="3.1" ry="4.9" fill="#8490fa"/>
<ellipse cx="873.4" cy="149.7" rx="1.7" ry="2.6" fill="#a8c6ff"/>
<ellipse cx="895.5" cy="148.1" rx="3.1" ry="4.9" fill="#8490fa"/>
<ellipse cx="895.7" cy="149.6" rx="1.7" ry="2.6" fill="#a8c6ff"/>
<ellipse cx="694.0" cy="163.6" rx="3.1" ry="4.9" fill="#8490fa"/>
<ellipse cx="694.2" cy="165.1" rx="1.7" ry="2.6" fill="#a8c6ff"/>
<ellipse cx="716.2" cy="163.5" rx="3.1" ry="4.9" fill="#8490fa"/>
<ellipse cx="716.4" cy="165.0" rx="1.7" ry="2.6" fill="#a8c6ff"/>
<ellipse cx="738.4" cy="163.4" rx="3.1" ry="4.9" fill="#8490fa"/>
<ellipse cx="738.6" cy="164.9" rx="1.7" ry="2.6" fill="#a8c6ff"/>
<ellipse cx="760.7" cy="163.3" rx="3.1" ry="4.9" fill="#8490fa"/>
<ellipse cx="760.9" cy="164.8" rx="1.7" ry="2.6" fill="#a8c6ff"/>
<ellipse cx="782.9" cy="163.2" rx="3.1" ry="4.9" fill="#8490fa"/>
<ellipse cx="783.1" cy="164.7" rx="1.7" ry="2.6" fill="#a8c6ff"/>
<ellipse cx="805.1" cy="163.1" rx="3.1" ry="4.9" fill="#8490fa"/>
<ellipse cx="805.3" cy="164.6" rx="1.7" ry="2.6" fill="#a8c6ff"/>
<ellipse cx="827.3" cy="163.0" rx="3.1" ry="4.9" fill="#8490fa"/>
<ellipse cx="827.5" cy="164.5" rx="1.7" ry="2.6" fill="#a8c6ff"/>
<ellipse cx="849.5" cy="162.9" rx="3.1" ry="4.9" fill="#8490fa"/>
<ellipse cx="849.7" cy="164.4" rx="1.7" ry="2.6" fill="#a8c6ff"/>
<ellipse cx="871.7" cy="162.8" rx="3.1" ry="4.9" fill="#8490fa"/>
<ellipse cx="871.9" cy="164.3" rx="1.7" ry="2.6" fill="#a8c6ff"/>
<ellipse cx="894.0" cy="162.7" rx="3.1" ry="4.9" fill="#8490fa"/>
<ellipse cx="894.2" cy="164.2" rx="1.7" ry="2.6" fill="#a8c6ff"/>
<ellipse cx="693.2" cy="179.2" rx="3.1" ry="4.9" fill="#8490fa"/>
<ellipse cx="693.4" cy="180.7" rx="1.7" ry="2.6" fill="#a8c6ff"/>
<ellipse cx="715.3" cy="179.1" rx="3.1" ry="4.9" fill="#8490fa"/>
<ellipse cx="715.5" cy="180.6" rx="1.7" ry="2.6" fill="#a8c6ff"/>
<ellipse cx="737.5" cy="179.0" rx="3.1" ry="4.9" fill="#8490fa"/>
<ellipse cx="737.7" cy="180.5" rx="1.7" ry="2.6" fill="#a8c6ff"/>
<ellipse cx="759.6" cy="178.8" rx="3.1" ry="4.9" fill="#8490fa"/>
<ellipse cx="759.8" cy="180.3" rx="1.7" ry="2.6" fill="#a8c6ff"/>
<ellipse cx="781.7" cy="178.7" rx="3.1" ry="4.9" fill="#8490fa"/>
<ellipse cx="781.9" cy="180.2" rx="1.7" ry="2.6" fill="#a8c6ff"/>
<ellipse cx="803.8" cy="178.6" rx="3.1" ry="4.9" fill="#8490fa"/>
<ellipse cx="804.0" cy="180.1" rx="1.7" ry="2.6" fill="#a8c6ff"/>
<ellipse cx="825.9" cy="178.5" rx="3.1" ry="4.9" fill="#8490fa"/>
<ellipse cx="826.1" cy="180.0" rx="1.7" ry="2.6" fill="#a8c6ff"/>
<ellipse cx="848.1" cy="178.4" rx="3.1" ry="4.9" fill="#8490fa"/>
<ellipse cx="848.3" cy="179.9" rx="1.7" ry="2.6" fill="#a8c6ff"/>
<ellipse cx="870.2" cy="178.3" rx="3.1" ry="4.9" fill="#8490fa"/>
<ellipse cx="870.4" cy="179.8" rx="1.7" ry="2.6" fill="#a8c6ff"/>
<ellipse cx="892.3" cy="178.2" rx="3.1" ry="4.9" fill="#8490fa"/>
<ellipse cx="892.5" cy="179.7" rx="1.7" ry="2.6" fill="#a8c6ff"/>
<ellipse cx="692.5" cy="194.4" rx="3.1" ry="4.9" fill="#8490fa"/>
<ellipse cx="692.7" cy="195.9" rx="1.7" ry="2.6" fill="#a8c6ff"/>
<ellipse cx="714.5" cy="194.2" rx="3.1" ry="4.9" fill="#8490fa"/>
<ellipse cx="714.7" cy="195.7" rx="1.7" ry="2.6" fill="#a8c6ff"/>
<ellipse cx="736.5" cy="194.1" rx="3.1" ry="4.9" fill="#8490fa"/>
<ellipse cx="736.7" cy="195.6" rx="1.7" ry="2.6" fill="#a8c6ff"/>
<ellipse cx="758.5" cy="194.0" rx="3.1" ry="4.9" fill="#8490fa"/>
<ellipse cx="758.7" cy="195.5" rx="1.7" ry="2.6" fill="#a8c6ff"/>
<ellipse cx="780.6" cy="193.8" rx="3.1" ry="4.9" fill="#8490fa"/>
<ellipse cx="780.8" cy="195.3" rx="1.7" ry="2.6" fill="#a8c6ff"/>
<ellipse cx="802.6" cy="193.7" rx="3.1" ry="4.9" fill="#8490fa"/>
<ellipse cx="802.8" cy="195.2" rx="1.7" ry="2.6" fill="#a8c6ff"/>
<ellipse cx="824.6" cy="193.6" rx="3.1" ry="4.9" fill="#8490fa"/>
<ellipse cx="824.8" cy="195.1" rx="1.7" ry="2.6" fill="#a8c6ff"/>
<ellipse cx="846.6" cy="193.4" rx="3.1" ry="4.9" fill="#8490fa"/>
<ellipse cx="846.8" cy="194.9" rx="1.7" ry="2.6" fill="#a8c6ff"/>
<ellipse cx="868.6" cy="193.3" rx="3.1" ry="4.9" fill="#8490fa"/>
<ellipse cx="868.8" cy="194.8" rx="1.7" ry="2.6" fill="#a8c6ff"/>
<ellipse cx="890.7" cy="193.2" rx="3.1" ry="4.9" fill="#8490fa"/>
<ellipse cx="890.9" cy="194.7" rx="1.7" ry="2.6" fill="#a8c6ff"/>
<ellipse cx="691.7" cy="209.2" rx="3.1" ry="4.9" fill="#8490fa"/>
<ellipse cx="691.9" cy="210.7" rx="1.7" ry="2.6" fill="#a8c6ff"/>
<ellipse cx="713.7" cy="209.1" rx="3.1" ry="4.9" fill="#8490fa"/>
<ellipse cx="713.9" cy="210.6" rx="1.7" ry="2.6" fill="#a8c6ff"/>
<ellipse cx="735.6" cy="208.9" rx="3.1" ry="4.9" fill="#8490fa"/>
<ellipse cx="735.8" cy="210.4" rx="1.7" ry="2.6" fill="#a8c6ff"/>
<ellipse cx="757.5" cy="208.8" rx="3.1" ry="4.9" fill="#8490fa"/>
<ellipse cx="757.7" cy="210.3" rx="1.7" ry="2.6" fill="#a8c6ff"/>
<ellipse cx="779.4" cy="208.7" rx="3.1" ry="4.9" fill="#8490fa"/>
<ellipse cx="779.6" cy="210.2" rx="1.7" ry="2.6" fill="#a8c6ff"/>
<ellipse cx="801.4" cy="208.5" rx="3.1" ry="4.9" fill="#8490fa"/>
<ellipse cx="801.6" cy="210.0" rx="1.7" ry="2.6" fill="#a8c6ff"/>
<ellipse cx="823.3" cy="208.4" rx="3.1" ry="4.9" fill="#8490fa"/>
<ellipse cx="823.5" cy="209.9" rx="1.7" ry="2.6" fill="#a8c6ff"/>
<ellipse cx="845.2" cy="208.2" rx="3.1" ry="4.9" fill="#8490fa"/>
<ellipse cx="845.4" cy="209.7" rx="1.7" ry="2.6" fill="#a8c6ff"/>
<ellipse cx="867.1" cy="208.1" rx="3.1" ry="4.9" fill="#8490fa"/>
<ellipse cx="867.3" cy="209.6" rx="1.7" ry="2.6" fill="#a8c6ff"/>
<ellipse cx="889.1" cy="207.9" rx="3.1" ry="4.9" fill="#8490fa"/>
<ellipse cx="889.3" cy="209.4" rx="1.7" ry="2.6" fill="#a8c6ff"/>
<ellipse cx="689.8" cy="222.5" rx="3.6" ry="5.6" fill="#e4e4ea"/>
<ellipse cx="691.5" cy="222.2" rx="3" ry="5" fill="#060606"/>
<ellipse cx="712.8" cy="223.8" rx="3.1" ry="4.9" fill="#8490fa"/>
<ellipse cx="713.0" cy="225.3" rx="1.7" ry="2.6" fill="#a8c6ff"/>
<ellipse cx="734.7" cy="223.7" rx="3.1" ry="4.9" fill="#8490fa"/>
<ellipse cx="734.9" cy="225.2" rx="1.7" ry="2.6" fill="#a8c6ff"/>
<ellipse cx="756.5" cy="223.5" rx="3.1" ry="4.9" fill="#8490fa"/>
<ellipse cx="756.7" cy="225.0" rx="1.7" ry="2.6" fill="#a8c6ff"/>
<ellipse cx="778.3" cy="223.3" rx="3.1" ry="4.9" fill="#8490fa"/>
<ellipse cx="778.5" cy="224.8" rx="1.7" ry="2.6" fill="#a8c6ff"/>
<ellipse cx="800.2" cy="223.2" rx="3.1" ry="4.9" fill="#8490fa"/>
<ellipse cx="800.4" cy="224.7" rx="1.7" ry="2.6" fill="#a8c6ff"/>
<ellipse cx="822.0" cy="223.0" rx="3.1" ry="4.9" fill="#8490fa"/>
<ellipse cx="822.2" cy="224.5" rx="1.7" ry="2.6" fill="#a8c6ff"/>
<ellipse cx="843.8" cy="222.8" rx="3.1" ry="4.9" fill="#8490fa"/>
<ellipse cx="844.0" cy="224.3" rx="1.7" ry="2.6" fill="#a8c6ff"/>
<ellipse cx="865.7" cy="222.7" rx="3.1" ry="4.9" fill="#8490fa"/>
<ellipse cx="865.9" cy="224.2" rx="1.7" ry="2.6" fill="#a8c6ff"/>
<ellipse cx="886.3" cy="221.0" rx="3.6" ry="5.6" fill="#e4e4ea"/>
<ellipse cx="888.0" cy="220.7" rx="3" ry="5" fill="#060606"/>
<polygon points="361,101 373,100 376,212 365,213" fill="url(#bar)"/>
<polygon points="635,100 647,101 644,212 633,213" fill="url(#bar)"/>
<ellipse cx="413.8" cy="122.2" rx="11.6" ry="10" fill="#b8b4ee"/>
<ellipse cx="413.8" cy="119.2" rx="7" ry="4" fill="#a49cf0"/>
<path d="M402.8,126.2 A11,8 0 0,0 424.8,126.2" fill="none" stroke="#5050d6" stroke-width="4.2"/>
<path d="M403.8,120.2 A10,6.5 0 0,0 423.8,120.2" fill="none" stroke="#f4ffff" stroke-width="3.6"/>
<ellipse cx="415" cy="193" rx="11.6" ry="10" fill="#b8b4ee"/>
<ellipse cx="415" cy="190" rx="7" ry="4" fill="#a49cf0"/>
<path d="M404,197 A11,8 0 0,0 426,197" fill="none" stroke="#5050d6" stroke-width="4.2"/>
<path d="M405,191 A10,6.5 0 0,0 425,191" fill="none" stroke="#f4ffff" stroke-width="3.6"/>
<ellipse cx="592.5" cy="122.2" rx="11.6" ry="10" fill="#b8b4ee"/>
<ellipse cx="592.5" cy="119.2" rx="7" ry="4" fill="#a49cf0"/>
<path d="M581.5,126.2 A11,8 0 0,0 603.5,126.2" fill="none" stroke="#5050d6" stroke-width="4.2"/>
<path d="M582.5,120.2 A10,6.5 0 0,0 602.5,120.2" fill="none" stroke="#f4ffff" stroke-width="3.6"/>
<ellipse cx="592.5" cy="193" rx="11.6" ry="10" fill="#b8b4ee"/>
<ellipse cx="592.5" cy="190" rx="7" ry="4" fill="#a49cf0"/>
<path d="M581.5,197 A11,8 0 0,0 603.5,197" fill="none" stroke="#5050d6" stroke-width="4.2"/>
<path d="M582.5,191 A10,6.5 0 0,0 602.5,191" fill="none" stroke="#f4ffff" stroke-width="3.6"/>
<ellipse cx="505" cy="159.5" rx="22" ry="18.5" fill="#c8c8d8"/>
<ellipse cx="505" cy="159.5" rx="22" ry="18.5" fill="none" stroke="#8a8aa8" stroke-width="2"/>
<path d="M484,160 A21,18 0 0,1 488,148" fill="none" stroke="#8080f0" stroke-width="2"/>
<path d="M526,160 A21,18 0 0,0 522,148" fill="none" stroke="#8080f0" stroke-width="2"/>
<ellipse cx="505" cy="161" rx="17" ry="14" fill="#fafafc"/>
<path d="M494,157 L516,156 L517,167 L510,173 L500,173 L493,167 Z" fill="#3e3e44"/>
<ellipse cx="505" cy="164" rx="8" ry="5" fill="#66666c"/>
<ellipse cx="462.9" cy="92" rx="1.6" ry="2" fill="#6e6ec8"/>
<ellipse cx="462.9" cy="95.5" rx="1.6" ry="2" fill="#6e6ec8"/>
<ellipse cx="462.9" cy="99" rx="1.6" ry="2" fill="#6e6ec8"/>
<ellipse cx="462.9" cy="102.5" rx="1.6" ry="2" fill="#6e6ec8"/>
<ellipse cx="473.1" cy="86" rx="1.6" ry="2" fill="#6e6ec8"/>
<ellipse cx="473.1" cy="90" rx="1.6" ry="2" fill="#6e6ec8"/>
<ellipse cx="473.1" cy="94" rx="1.6" ry="2" fill="#6e6ec8"/>
<ellipse cx="473.1" cy="98" rx="1.6" ry="2" fill="#6e6ec8"/>
<ellipse cx="473.1" cy="102" rx="1.6" ry="2" fill="#6e6ec8"/>
<ellipse cx="473.1" cy="106" rx="1.6" ry="2" fill="#6e6ec8"/>
<ellipse cx="473.1" cy="110" rx="1.6" ry="2" fill="#6e6ec8"/>
<ellipse cx="483.3" cy="86" rx="1.6" ry="2" fill="#6e6ec8"/>
<ellipse cx="483.3" cy="90" rx="1.6" ry="2" fill="#6e6ec8"/>
<ellipse cx="483.3" cy="94" rx="1.6" ry="2" fill="#6e6ec8"/>
<ellipse cx="483.3" cy="98" rx="1.6" ry="2" fill="#6e6ec8"/>
<ellipse cx="483.3" cy="102" rx="1.6" ry="2" fill="#6e6ec8"/>
<ellipse cx="483.3" cy="106" rx="1.6" ry="2" fill="#6e6ec8"/>
<ellipse cx="483.3" cy="110" rx="1.6" ry="2" fill="#6e6ec8"/>
<ellipse cx="493.5" cy="86" rx="1.6" ry="2" fill="#6e6ec8"/>
<ellipse cx="493.5" cy="90" rx="1.6" ry="2" fill="#6e6ec8"/>
<ellipse cx="493.5" cy="94" rx="1.6" ry="2" fill="#6e6ec8"/>
<ellipse cx="493.5" cy="98" rx="1.6" ry="2" fill="#6e6ec8"/>
<ellipse cx="493.5" cy="102" rx="1.6" ry="2" fill="#6e6ec8"/>
<ellipse cx="493.5" cy="106" rx="1.6" ry="2" fill="#6e6ec8"/>
<ellipse cx="493.5" cy="110" rx="1.6" ry="2" fill="#6e6ec8"/>
<ellipse cx="503.7" cy="86" rx="1.6" ry="2" fill="#6e6ec8"/>
<ellipse cx="503.7" cy="90" rx="1.6" ry="2" fill="#6e6ec8"/>
<ellipse cx="503.7" cy="94" rx="1.6" ry="2" fill="#6e6ec8"/>
<ellipse cx="503.7" cy="98" rx="1.6" ry="2" fill="#6e6ec8"/>
<ellipse cx="503.7" cy="102" rx="1.6" ry="2" fill="#6e6ec8"/>
<ellipse cx="503.7" cy="106" rx="1.6" ry="2" fill="#6e6ec8"/>
<ellipse cx="503.7" cy="110" rx="1.6" ry="2" fill="#6e6ec8"/>
<ellipse cx="513.4" cy="86" rx="1.6" ry="2" fill="#6e6ec8"/>
<ellipse cx="513.4" cy="90" rx="1.6" ry="2" fill="#6e6ec8"/>
<ellipse cx="513.4" cy="94" rx="1.6" ry="2" fill="#6e6ec8"/>
<ellipse cx="513.4" cy="98" rx="1.6" ry="2" fill="#6e6ec8"/>
<ellipse cx="513.4" cy="102" rx="1.6" ry="2" fill="#6e6ec8"/>
<ellipse cx="513.4" cy="106" rx="1.6" ry="2" fill="#6e6ec8"/>
<ellipse cx="513.4" cy="110" rx="1.6" ry="2" fill="#6e6ec8"/>
<ellipse cx="523.3" cy="86" rx="1.6" ry="2" fill="#6e6ec8"/>
<ellipse cx="523.3" cy="90" rx="1.6" ry="2" fill="#6e6ec8"/>
<ellipse cx="523.3" cy="94" rx="1.6" ry="2" fill="#6e6ec8"/>
<ellipse cx="523.3" cy="98" rx="1.6" ry="2" fill="#6e6ec8"/>
<ellipse cx="523.3" cy="102" rx="1.6" ry="2" fill="#6e6ec8"/>
<ellipse cx="523.3" cy="106" rx="1.6" ry="2" fill="#6e6ec8"/>
<ellipse cx="523.3" cy="110" rx="1.6" ry="2" fill="#6e6ec8"/>
<ellipse cx="533.5" cy="86" rx="1.6" ry="2" fill="#6e6ec8"/>
<ellipse cx="533.5" cy="90" rx="1.6" ry="2" fill="#6e6ec8"/>
<ellipse cx="533.5" cy="94" rx="1.6" ry="2" fill="#6e6ec8"/>
<ellipse cx="533.5" cy="98" rx="1.6" ry="2" fill="#6e6ec8"/>
<ellipse cx="533.5" cy="102" rx="1.6" ry="2" fill="#6e6ec8"/>
<ellipse cx="533.5" cy="106" rx="1.6" ry="2" fill="#6e6ec8"/>
<ellipse cx="533.5" cy="110" rx="1.6" ry="2" fill="#6e6ec8"/>
<ellipse cx="543.7" cy="92" rx="1.6" ry="2" fill="#6e6ec8"/>
<ellipse cx="543.7" cy="95.5" rx="1.6" ry="2" fill="#6e6ec8"/>
<ellipse cx="543.7" cy="99" rx="1.6" ry="2" fill="#6e6ec8"/>
<ellipse cx="543.7" cy="102.5" rx="1.6" ry="2" fill="#6e6ec8"/>
<circle cx="462.9" cy="214.4" r="1.8" fill="#5e5eb8"/>
<circle cx="462.9" cy="221.2" r="1.8" fill="#5e5eb8"/>
<circle cx="473.1" cy="206.8" r="1.8" fill="#5e5eb8"/>
<circle cx="473.1" cy="214.4" r="1.8" fill="#5e5eb8"/>
<circle cx="473.1" cy="221.2" r="1.8" fill="#5e5eb8"/>
<circle cx="473.1" cy="228.9" r="1.8" fill="#5e5eb8"/>
<circle cx="483.3" cy="206.8" r="1.8" fill="#5e5eb8"/>
<circle cx="483.3" cy="214.4" r="1.8" fill="#5e5eb8"/>
<circle cx="483.3" cy="221.2" r="1.8" fill="#5e5eb8"/>
<circle cx="483.3" cy="228.9" r="1.8" fill="#5e5eb8"/>
<circle cx="493.5" cy="206.8" r="1.8" fill="#5e5eb8"/>
<circle cx="493.5" cy="214.4" r="1.8" fill="#5e5eb8"/>
<circle cx="493.5" cy="221.2" r="1.8" fill="#5e5eb8"/>
<circle cx="493.5" cy="228.9" r="1.8" fill="#5e5eb8"/>
<circle cx="503.7" cy="206.8" r="1.8" fill="#5e5eb8"/>
<circle cx="503.7" cy="214.4" r="1.8" fill="#5e5eb8"/>
<circle cx="503.7" cy="221.2" r="1.8" fill="#5e5eb8"/>
<circle cx="503.7" cy="228.9" r="1.8" fill="#5e5eb8"/>
<circle cx="513.4" cy="206.8" r="1.8" fill="#5e5eb8"/>
<circle cx="513.4" cy="214.4" r="1.8" fill="#5e5eb8"/>
<circle cx="513.4" cy="221.2" r="1.8" fill="#5e5eb8"/>
<circle cx="513.4" cy="228.9" r="1.8" fill="#5e5eb8"/>
<circle cx="523.3" cy="206.8" r="1.8" fill="#5e5eb8"/>
<circle cx="523.3" cy="214.4" r="1.8" fill="#5e5eb8"/>
<circle cx="523.3" cy="221.2" r="1.8" fill="#5e5eb8"/>
<circle cx="523.3" cy="228.9" r="1.8" fill="#5e5eb8"/>
<circle cx="533.5" cy="206.8" r="1.8" fill="#5e5eb8"/>
<circle cx="533.5" cy="214.4" r="1.8" fill="#5e5eb8"/>
<circle cx="533.5" cy="221.2" r="1.8" fill="#5e5eb8"/>
<circle cx="533.5" cy="228.9" r="1.8" fill="#5e5eb8"/>
<circle cx="543.7" cy="214.4" r="1.8" fill="#5e5eb8"/>
<circle cx="543.7" cy="221.2" r="1.8" fill="#5e5eb8"/>
<polygon points="278,302 368,302 370,632 266,632" fill="#080808" filter="url(#soft)"/>
<polygon points="278,330 292,318 282,600 264,596" fill="#0b0b0c"/>
<polygon points="300,310 358,319 342,575 278,565" fill="url(#hsBody)"/>
<polygon points="300,310 358,319 342,575 278,565" fill="url(#hsBodyH)"/>
<polygon points="306.5,323.8 349.4,330 340.6,415 296.9,408" fill="#262628"/>
<circle cx="311.9" cy="329.4" r="2.8" fill="#e2e2e2"/>
<circle cx="311.9" cy="329.4" r="1.1" fill="#a4a4a4"/>
<circle cx="322.2" cy="331.1" r="2.8" fill="#e2e2e2"/>
<circle cx="322.2" cy="331.1" r="1.1" fill="#a4a4a4"/>
<circle cx="332.5" cy="332.7" r="2.8" fill="#e2e2e2"/>
<circle cx="332.5" cy="332.7" r="1.1" fill="#a4a4a4"/>
<circle cx="342.8" cy="334.4" r="2.8" fill="#e2e2e2"/>
<circle cx="342.8" cy="334.4" r="1.1" fill="#a4a4a4"/>
<circle cx="311.0" cy="337.0" r="2.8" fill="#e2e2e2"/>
<circle cx="311.0" cy="337.0" r="1.1" fill="#a4a4a4"/>
<circle cx="321.3" cy="338.6" r="2.8" fill="#e2e2e2"/>
<circle cx="321.3" cy="338.6" r="1.1" fill="#a4a4a4"/>
<circle cx="331.6" cy="340.3" r="2.8" fill="#e2e2e2"/>
<circle cx="331.6" cy="340.3" r="1.1" fill="#a4a4a4"/>
<circle cx="341.9" cy="342.0" r="2.8" fill="#e2e2e2"/>
<circle cx="341.9" cy="342.0" r="1.1" fill="#a4a4a4"/>
<circle cx="310.1" cy="344.5" r="2.8" fill="#e2e2e2"/>
<circle cx="310.1" cy="344.5" r="1.1" fill="#a4a4a4"/>
<circle cx="320.5" cy="346.2" r="2.8" fill="#e2e2e2"/>
<circle cx="320.5" cy="346.2" r="1.1" fill="#a4a4a4"/>
<circle cx="330.8" cy="347.9" r="2.8" fill="#e2e2e2"/>
<circle cx="330.8" cy="347.9" r="1.1" fill="#a4a4a4"/>
<circle cx="341.1" cy="349.5" r="2.8" fill="#e2e2e2"/>
<circle cx="341.1" cy="349.5" r="1.1" fill="#a4a4a4"/>
<circle cx="309.3" cy="352.1" r="2.8" fill="#e2e2e2"/>
<circle cx="309.3" cy="352.1" r="1.1" fill="#a4a4a4"/>
<circle cx="319.6" cy="353.7" r="2.8" fill="#e2e2e2"/>
<circle cx="319.6" cy="353.7" r="1.1" fill="#a4a4a4"/>
<circle cx="330.0" cy="355.4" r="2.8" fill="#e2e2e2"/>
<circle cx="330.0" cy="355.4" r="1.1" fill="#a4a4a4"/>
<circle cx="340.4" cy="357.1" r="2.8" fill="#e2e2e2"/>
<circle cx="340.4" cy="357.1" r="1.1" fill="#a4a4a4"/>
<circle cx="308.4" cy="359.6" r="2.8" fill="#e2e2e2"/>
<circle cx="308.4" cy="359.6" r="1.1" fill="#a4a4a4"/>
<circle cx="318.8" cy="361.3" r="2.8" fill="#e2e2e2"/>
<circle cx="318.8" cy="361.3" r="1.1" fill="#a4a4a4"/>
<circle cx="329.2" cy="363.0" r="2.8" fill="#e2e2e2"/>
<circle cx="329.2" cy="363.0" r="1.1" fill="#a4a4a4"/>
<circle cx="339.6" cy="364.6" r="2.8" fill="#e2e2e2"/>
<circle cx="339.6" cy="364.6" r="1.1" fill="#a4a4a4"/>
<circle cx="307.5" cy="367.2" r="2.8" fill="#e2e2e2"/>
<circle cx="307.5" cy="367.2" r="1.1" fill="#a4a4a4"/>
<circle cx="317.9" cy="368.9" r="2.8" fill="#e2e2e2"/>
<circle cx="317.9" cy="368.9" r="1.1" fill="#a4a4a4"/>
<circle cx="328.3" cy="370.5" r="2.8" fill="#e2e2e2"/>
<circle cx="328.3" cy="370.5" r="1.1" fill="#a4a4a4"/>
<circle cx="338.8" cy="372.2" r="2.8" fill="#e2e2e2"/>
<circle cx="338.8" cy="372.2" r="1.1" fill="#a4a4a4"/>
<circle cx="306.6" cy="374.8" r="2.8" fill="#e2e2e2"/>
<circle cx="306.6" cy="374.8" r="1.1" fill="#a4a4a4"/>
<circle cx="317.1" cy="376.4" r="2.8" fill="#e2e2e2"/>
<circle cx="317.1" cy="376.4" r="1.1" fill="#a4a4a4"/>
<circle cx="327.5" cy="378.1" r="2.8" fill="#e2e2e2"/>
<circle cx="327.5" cy="378.1" r="1.1" fill="#a4a4a4"/>
<circle cx="337.9" cy="379.8" r="2.8" fill="#e2e2e2"/>
<circle cx="337.9" cy="379.8" r="1.1" fill="#a4a4a4"/>
<circle cx="305.7" cy="382.3" r="2.8" fill="#e2e2e2"/>
<circle cx="305.7" cy="382.3" r="1.1" fill="#a4a4a4"/>
<circle cx="316.2" cy="384.0" r="2.8" fill="#e2e2e2"/>
<circle cx="316.2" cy="384.0" r="1.1" fill="#a4a4a4"/>
<circle cx="326.7" cy="385.7" r="2.8" fill="#e2e2e2"/>
<circle cx="326.7" cy="385.7" r="1.1" fill="#a4a4a4"/>
<circle cx="337.1" cy="387.3" r="2.8" fill="#e2e2e2"/>
<circle cx="337.1" cy="387.3" r="1.1" fill="#a4a4a4"/>
<circle cx="304.9" cy="389.9" r="2.8" fill="#e2e2e2"/>
<circle cx="304.9" cy="389.9" r="1.1" fill="#a4a4a4"/>
<circle cx="315.4" cy="391.5" r="2.8" fill="#e2e2e2"/>
<circle cx="315.4" cy="391.5" r="1.1" fill="#a4a4a4"/>
<circle cx="325.9" cy="393.2" r="2.8" fill="#e2e2e2"/>
<circle cx="325.9" cy="393.2" r="1.1" fill="#a4a4a4"/>
<circle cx="336.4" cy="394.9" r="2.8" fill="#e2e2e2"/>
<circle cx="336.4" cy="394.9" r="1.1" fill="#a4a4a4"/>
<circle cx="304.0" cy="397.4" r="2.8" fill="#e2e2e2"/>
<circle cx="304.0" cy="397.4" r="1.1" fill="#a4a4a4"/>
<circle cx="314.5" cy="399.1" r="2.8" fill="#e2e2e2"/>
<circle cx="314.5" cy="399.1" r="1.1" fill="#a4a4a4"/>
<circle cx="325.0" cy="400.8" r="2.8" fill="#e2e2e2"/>
<circle cx="325.0" cy="400.8" r="1.1" fill="#a4a4a4"/>
<circle cx="335.6" cy="402.4" r="2.8" fill="#e2e2e2"/>
<circle cx="335.6" cy="402.4" r="1.1" fill="#a4a4a4"/>
<circle cx="303.1" cy="405.0" r="2.8" fill="#e2e2e2"/>
<circle cx="303.1" cy="405.0" r="1.1" fill="#a4a4a4"/>
<circle cx="313.7" cy="406.7" r="2.8" fill="#e2e2e2"/>
<circle cx="313.7" cy="406.7" r="1.1" fill="#a4a4a4"/>
<circle cx="324.2" cy="408.3" r="2.8" fill="#e2e2e2"/>
<circle cx="324.2" cy="408.3" r="1.1" fill="#a4a4a4"/>
<circle cx="334.8" cy="410.0" r="2.8" fill="#e2e2e2"/>
<circle cx="334.8" cy="410.0" r="1.1" fill="#a4a4a4"/>
<polygon points="278,565 342,575 338,606 276,597" fill="#080808"/>
<polygon points="297,568 317,571 316,584 297,582" fill="#2e2e32"/>
<path d="M301,570 L305,570 L304,582 L300,582 Z" fill="#8a8a90"/>
<rect x="288" y="580" width="37" height="15" rx="3" fill="url(#chromeH)"/>
<rect x="288" y="585" width="37" height="1.6" fill="#5a5a5e"/>
<ellipse cx="306.5" cy="600.5" rx="18" ry="12" fill="#d8d8dc"/>
<ellipse cx="306.5" cy="601" rx="14" ry="9.2" fill="#2c2c2e"/>
<ellipse cx="306.5" cy="601.5" rx="11" ry="7" fill="#a49c8e"/>
<ellipse cx="306.5" cy="602" rx="7.5" ry="4.6" fill="#3a3a3c"/>
<ellipse cx="306.5" cy="602" rx="3.5" ry="2.2" fill="#6a6660"/>
<polygon points="760,285.5 832.5,288.5 832,358 810,359 809,299 760,297" fill="url(#jetBackV)"/>
<polygon points="760,285.5 832.5,288.5 831,294 762,294" fill="#eeeef0"/>
<polygon points="774,287 796,288 794,294 776,294" fill="#c8c8cc"/>
<path d="M779,294 L783,287 L786,287 L782,294 Z" fill="#2a2a2c"/>
<polygon points="828,288.5 832.5,288.5 832,358 828,358" fill="#5a5a60"/>
<polygon points="828.5,291 830,291 830,357 828.5,357" fill="#b4b4ba"/>
<polygon points="734,297 809,299 809.6,369.4 735.8,366.4" fill="url(#jetFace)"/>
<polygon points="809,299 812,300 812.4,369.6 809.6,369.4" fill="#8a8a90"/>
<circle cx="749.6" cy="313.9" r="3.4" fill="#1c1c1e"/>
<circle cx="750.1" cy="314.2" r="1.3" fill="#4a4a4e"/>
<circle cx="762.8" cy="314.7" r="3.4" fill="#1c1c1e"/>
<circle cx="763.3" cy="315.0" r="1.3" fill="#4a4a4e"/>
<circle cx="776.0" cy="315.5" r="3.4" fill="#1c1c1e"/>
<circle cx="776.5" cy="315.8" r="1.3" fill="#4a4a4e"/>
<circle cx="789.2" cy="316.3" r="3.4" fill="#1c1c1e"/>
<circle cx="789.7" cy="316.6" r="1.3" fill="#4a4a4e"/>
<circle cx="750.2" cy="326.7" r="3.4" fill="#1c1c1e"/>
<circle cx="750.7" cy="327.0" r="1.3" fill="#4a4a4e"/>
<circle cx="763.4" cy="327.5" r="3.4" fill="#1c1c1e"/>
<circle cx="763.9" cy="327.8" r="1.3" fill="#4a4a4e"/>
<circle cx="776.6" cy="328.3" r="3.4" fill="#1c1c1e"/>
<circle cx="777.1" cy="328.6" r="1.3" fill="#4a4a4e"/>
<circle cx="789.8" cy="329.1" r="3.4" fill="#1c1c1e"/>
<circle cx="790.3" cy="329.4" r="1.3" fill="#4a4a4e"/>
<circle cx="750.8" cy="339.5" r="3.4" fill="#1c1c1e"/>
<circle cx="751.3" cy="339.8" r="1.3" fill="#4a4a4e"/>
<circle cx="764.0" cy="340.3" r="3.4" fill="#1c1c1e"/>
<circle cx="764.5" cy="340.6" r="1.3" fill="#4a4a4e"/>
<circle cx="777.2" cy="341.1" r="3.4" fill="#1c1c1e"/>
<circle cx="777.7" cy="341.4" r="1.3" fill="#4a4a4e"/>
<circle cx="790.4" cy="341.9" r="3.4" fill="#1c1c1e"/>
<circle cx="790.9" cy="342.2" r="1.3" fill="#4a4a4e"/>
<circle cx="751.4" cy="352.3" r="3.4" fill="#1c1c1e"/>
<circle cx="751.9" cy="352.6" r="1.3" fill="#4a4a4e"/>
<circle cx="764.6" cy="353.1" r="3.4" fill="#1c1c1e"/>
<circle cx="765.1" cy="353.4" r="1.3" fill="#4a4a4e"/>
<circle cx="777.8" cy="353.9" r="3.4" fill="#1c1c1e"/>
<circle cx="778.3" cy="354.2" r="1.3" fill="#4a4a4e"/>
<circle cx="791.0" cy="354.7" r="3.4" fill="#1c1c1e"/>
<circle cx="791.5" cy="355.0" r="1.3" fill="#4a4a4e"/>
<polygon points="894.5,285.5 967.0,288.5 966.5,358 944.5,359 943.5,299 894.5,297" fill="url(#jetBackV)"/>
<polygon points="894.5,285.5 967.0,288.5 965.5,294 896.5,294" fill="#eeeef0"/>
<polygon points="908.5,287 930.5,288 928.5,294 910.5,294" fill="#c8c8cc"/>
<path d="M913.5,294 L917.5,287 L920.5,287 L916.5,294 Z" fill="#2a2a2c"/>
<polygon points="962.5,288.5 967.0,288.5 966.5,358 962.5,358" fill="#5a5a60"/>
<polygon points="963.0,291 964.5,291 964.5,357 963.0,357" fill="#b4b4ba"/>
<polygon points="868.5,297 943.5,299 944.1,369.4 870.3,366.4" fill="url(#jetFace)"/>
<polygon points="943.5,299 946.5,300 946.9,369.6 944.1,369.4" fill="#8a8a90"/>
<circle cx="884.1" cy="313.9" r="3.4" fill="#1c1c1e"/>
<circle cx="884.6" cy="314.2" r="1.3" fill="#4a4a4e"/>
<circle cx="897.3" cy="314.7" r="3.4" fill="#1c1c1e"/>
<circle cx="897.8" cy="315.0" r="1.3" fill="#4a4a4e"/>
<circle cx="910.5" cy="315.5" r="3.4" fill="#1c1c1e"/>
<circle cx="911.0" cy="315.8" r="1.3" fill="#4a4a4e"/>
<circle cx="923.7" cy="316.3" r="3.4" fill="#1c1c1e"/>
<circle cx="924.2" cy="316.6" r="1.3" fill="#4a4a4e"/>
<circle cx="884.7" cy="326.7" r="3.4" fill="#1c1c1e"/>
<circle cx="885.2" cy="327.0" r="1.3" fill="#4a4a4e"/>
<circle cx="897.9" cy="327.5" r="3.4" fill="#1c1c1e"/>
<circle cx="898.4" cy="327.8" r="1.3" fill="#4a4a4e"/>
<circle cx="911.1" cy="328.3" r="3.4" fill="#1c1c1e"/>
<circle cx="911.6" cy="328.6" r="1.3" fill="#4a4a4e"/>
<circle cx="924.3" cy="329.1" r="3.4" fill="#1c1c1e"/>
<circle cx="924.8" cy="329.4" r="1.3" fill="#4a4a4e"/>
<circle cx="885.3" cy="339.5" r="3.4" fill="#1c1c1e"/>
<circle cx="885.8" cy="339.8" r="1.3" fill="#4a4a4e"/>
<circle cx="898.5" cy="340.3" r="3.4" fill="#1c1c1e"/>
<circle cx="899.0" cy="340.6" r="1.3" fill="#4a4a4e"/>
<circle cx="911.7" cy="341.1" r="3.4" fill="#1c1c1e"/>
<circle cx="912.2" cy="341.4" r="1.3" fill="#4a4a4e"/>
<circle cx="924.9" cy="341.9" r="3.4" fill="#1c1c1e"/>
<circle cx="925.4" cy="342.2" r="1.3" fill="#4a4a4e"/>
<circle cx="885.9" cy="352.3" r="3.4" fill="#1c1c1e"/>
<circle cx="886.4" cy="352.6" r="1.3" fill="#4a4a4e"/>
<circle cx="899.1" cy="353.1" r="3.4" fill="#1c1c1e"/>
<circle cx="899.6" cy="353.4" r="1.3" fill="#4a4a4e"/>
<circle cx="912.3" cy="353.9" r="3.4" fill="#1c1c1e"/>
<circle cx="912.8" cy="354.2" r="1.3" fill="#4a4a4e"/>
<circle cx="925.5" cy="354.7" r="3.4" fill="#1c1c1e"/>
<circle cx="926.0" cy="355.0" r="1.3" fill="#4a4a4e"/>
<polygon points="760,388.0 832.5,391.0 832,460.5 810,461.5 809,401.5 760,399.5" fill="url(#jetBackV)"/>
<polygon points="760,388.0 832.5,391.0 831,396.5 762,396.5" fill="#eeeef0"/>
<polygon points="774,389.5 796,390.5 794,396.5 776,396.5" fill="#c8c8cc"/>
<path d="M779,396.5 L783,389.5 L786,389.5 L782,396.5 Z" fill="#2a2a2c"/>
<polygon points="828,391.0 832.5,391.0 832,460.5 828,460.5" fill="#5a5a60"/>
<polygon points="828.5,393.5 830,393.5 830,459.5 828.5,459.5" fill="#b4b4ba"/>
<polygon points="734,399.5 809,401.5 809.6,471.9 735.8,468.9" fill="url(#jetFace)"/>
<polygon points="809,401.5 812,402.5 812.4,472.1 809.6,471.9" fill="#8a8a90"/>
<circle cx="749.6" cy="416.4" r="3.4" fill="#1c1c1e"/>
<circle cx="750.1" cy="416.7" r="1.3" fill="#4a4a4e"/>
<circle cx="762.8" cy="417.2" r="3.4" fill="#1c1c1e"/>
<circle cx="763.3" cy="417.5" r="1.3" fill="#4a4a4e"/>
<circle cx="776.0" cy="418.0" r="3.4" fill="#1c1c1e"/>
<circle cx="776.5" cy="418.3" r="1.3" fill="#4a4a4e"/>
<circle cx="789.2" cy="418.8" r="3.4" fill="#1c1c1e"/>
<circle cx="789.7" cy="419.1" r="1.3" fill="#4a4a4e"/>
<circle cx="750.2" cy="429.2" r="3.4" fill="#1c1c1e"/>
<circle cx="750.7" cy="429.5" r="1.3" fill="#4a4a4e"/>
<circle cx="763.4" cy="430.0" r="3.4" fill="#1c1c1e"/>
<circle cx="763.9" cy="430.3" r="1.3" fill="#4a4a4e"/>
<circle cx="776.6" cy="430.8" r="3.4" fill="#1c1c1e"/>
<circle cx="777.1" cy="431.1" r="1.3" fill="#4a4a4e"/>
<circle cx="789.8" cy="431.6" r="3.4" fill="#1c1c1e"/>
<circle cx="790.3" cy="431.9" r="1.3" fill="#4a4a4e"/>
<circle cx="750.8" cy="442.0" r="3.4" fill="#1c1c1e"/>
<circle cx="751.3" cy="442.3" r="1.3" fill="#4a4a4e"/>
<circle cx="764.0" cy="442.8" r="3.4" fill="#1c1c1e"/>
<circle cx="764.5" cy="443.1" r="1.3" fill="#4a4a4e"/>
<circle cx="777.2" cy="443.6" r="3.4" fill="#1c1c1e"/>
<circle cx="777.7" cy="443.9" r="1.3" fill="#4a4a4e"/>
<circle cx="790.4" cy="444.4" r="3.4" fill="#1c1c1e"/>
<circle cx="790.9" cy="444.7" r="1.3" fill="#4a4a4e"/>
<circle cx="751.4" cy="454.8" r="3.4" fill="#1c1c1e"/>
<circle cx="751.9" cy="455.1" r="1.3" fill="#4a4a4e"/>
<circle cx="764.6" cy="455.6" r="3.4" fill="#1c1c1e"/>
<circle cx="765.1" cy="455.9" r="1.3" fill="#4a4a4e"/>
<circle cx="777.8" cy="456.4" r="3.4" fill="#1c1c1e"/>
<circle cx="778.3" cy="456.7" r="1.3" fill="#4a4a4e"/>
<circle cx="791.0" cy="457.2" r="3.4" fill="#1c1c1e"/>
<circle cx="791.5" cy="457.5" r="1.3" fill="#4a4a4e"/>
<polygon points="894.5,388.0 967.0,391.0 966.5,460.5 944.5,461.5 943.5,401.5 894.5,399.5" fill="url(#jetBackV)"/>
<polygon points="894.5,388.0 967.0,391.0 965.5,396.5 896.5,396.5" fill="#eeeef0"/>
<polygon points="908.5,389.5 930.5,390.5 928.5,396.5 910.5,396.5" fill="#c8c8cc"/>
<path d="M913.5,396.5 L917.5,389.5 L920.5,389.5 L916.5,396.5 Z" fill="#2a2a2c"/>
<polygon points="962.5,391.0 967.0,391.0 966.5,460.5 962.5,460.5" fill="#5a5a60"/>
<polygon points="963.0,393.5 964.5,393.5 964.5,459.5 963.0,459.5" fill="#b4b4ba"/>
<polygon points="868.5,399.5 943.5,401.5 944.1,471.9 870.3,468.9" fill="url(#jetFace)"/>
<polygon points="943.5,401.5 946.5,402.5 946.9,472.1 944.1,471.9" fill="#8a8a90"/>
<circle cx="884.1" cy="416.4" r="3.4" fill="#1c1c1e"/>
<circle cx="884.6" cy="416.7" r="1.3" fill="#4a4a4e"/>
<circle cx="897.3" cy="417.2" r="3.4" fill="#1c1c1e"/>
<circle cx="897.8" cy="417.5" r="1.3" fill="#4a4a4e"/>
<circle cx="910.5" cy="418.0" r="3.4" fill="#1c1c1e"/>
<circle cx="911.0" cy="418.3" r="1.3" fill="#4a4a4e"/>
<circle cx="923.7" cy="418.8" r="3.4" fill="#1c1c1e"/>
<circle cx="924.2" cy="419.1" r="1.3" fill="#4a4a4e"/>
<circle cx="884.7" cy="429.2" r="3.4" fill="#1c1c1e"/>
<circle cx="885.2" cy="429.5" r="1.3" fill="#4a4a4e"/>
<circle cx="897.9" cy="430.0" r="3.4" fill="#1c1c1e"/>
<circle cx="898.4" cy="430.3" r="1.3" fill="#4a4a4e"/>
<circle cx="911.1" cy="430.8" r="3.4" fill="#1c1c1e"/>
<circle cx="911.6" cy="431.1" r="1.3" fill="#4a4a4e"/>
<circle cx="924.3" cy="431.6" r="3.4" fill="#1c1c1e"/>
<circle cx="924.8" cy="431.9" r="1.3" fill="#4a4a4e"/>
<circle cx="885.3" cy="442.0" r="3.4" fill="#1c1c1e"/>
<circle cx="885.8" cy="442.3" r="1.3" fill="#4a4a4e"/>
<circle cx="898.5" cy="442.8" r="3.4" fill="#1c1c1e"/>
<circle cx="899.0" cy="443.1" r="1.3" fill="#4a4a4e"/>
<circle cx="911.7" cy="443.6" r="3.4" fill="#1c1c1e"/>
<circle cx="912.2" cy="443.9" r="1.3" fill="#4a4a4e"/>
<circle cx="924.9" cy="444.4" r="3.4" fill="#1c1c1e"/>
<circle cx="925.4" cy="444.7" r="1.3" fill="#4a4a4e"/>
<circle cx="885.9" cy="454.8" r="3.4" fill="#1c1c1e"/>
<circle cx="886.4" cy="455.1" r="1.3" fill="#4a4a4e"/>
<circle cx="899.1" cy="455.6" r="3.4" fill="#1c1c1e"/>
<circle cx="899.6" cy="455.9" r="1.3" fill="#4a4a4e"/>
<circle cx="912.3" cy="456.4" r="3.4" fill="#1c1c1e"/>
<circle cx="912.8" cy="456.7" r="1.3" fill="#4a4a4e"/>
<circle cx="925.5" cy="457.2" r="3.4" fill="#1c1c1e"/>
<circle cx="926.0" cy="457.5" r="1.3" fill="#4a4a4e"/>
<polygon points="760,482.5 832.5,485.5 832,555 810,556 809,496 760,494" fill="url(#jetBackV)"/>
<polygon points="760,482.5 832.5,485.5 831,491 762,491" fill="#eeeef0"/>
<polygon points="774,484 796,485 794,491 776,491" fill="#c8c8cc"/>
<path d="M779,491 L783,484 L786,484 L782,491 Z" fill="#2a2a2c"/>
<polygon points="828,485.5 832.5,485.5 832,555 828,555" fill="#5a5a60"/>
<polygon points="828.5,488 830,488 830,554 828.5,554" fill="#b4b4ba"/>
<polygon points="734,494 809,496 809.6,566.4 735.8,563.4" fill="url(#jetFace)"/>
<polygon points="809,496 812,497 812.4,566.6 809.6,566.4" fill="#8a8a90"/>
<circle cx="749.6" cy="510.9" r="3.4" fill="#1c1c1e"/>
<circle cx="750.1" cy="511.2" r="1.3" fill="#4a4a4e"/>
<circle cx="762.8" cy="511.7" r="3.4" fill="#1c1c1e"/>
<circle cx="763.3" cy="512.0" r="1.3" fill="#4a4a4e"/>
<circle cx="776.0" cy="512.5" r="3.4" fill="#1c1c1e"/>
<circle cx="776.5" cy="512.8" r="1.3" fill="#4a4a4e"/>
<circle cx="789.2" cy="513.3" r="3.4" fill="#1c1c1e"/>
<circle cx="789.7" cy="513.6" r="1.3" fill="#4a4a4e"/>
<circle cx="750.2" cy="523.7" r="3.4" fill="#1c1c1e"/>
<circle cx="750.7" cy="524.0" r="1.3" fill="#4a4a4e"/>
<circle cx="763.4" cy="524.5" r="3.4" fill="#1c1c1e"/>
<circle cx="763.9" cy="524.8" r="1.3" fill="#4a4a4e"/>
<circle cx="776.6" cy="525.3" r="3.4" fill="#1c1c1e"/>
<circle cx="777.1" cy="525.6" r="1.3" fill="#4a4a4e"/>
<circle cx="789.8" cy="526.1" r="3.4" fill="#1c1c1e"/>
<circle cx="790.3" cy="526.4" r="1.3" fill="#4a4a4e"/>
<circle cx="750.8" cy="536.5" r="3.4" fill="#1c1c1e"/>
<circle cx="751.3" cy="536.8" r="1.3" fill="#4a4a4e"/>
<circle cx="764.0" cy="537.3" r="3.4" fill="#1c1c1e"/>
<circle cx="764.5" cy="537.6" r="1.3" fill="#4a4a4e"/>
<circle cx="777.2" cy="538.1" r="3.4" fill="#1c1c1e"/>
<circle cx="777.7" cy="538.4" r="1.3" fill="#4a4a4e"/>
<circle cx="790.4" cy="538.9" r="3.4" fill="#1c1c1e"/>
<circle cx="790.9" cy="539.2" r="1.3" fill="#4a4a4e"/>
<circle cx="751.4" cy="549.3" r="3.4" fill="#1c1c1e"/>
<circle cx="751.9" cy="549.6" r="1.3" fill="#4a4a4e"/>
<circle cx="764.6" cy="550.1" r="3.4" fill="#1c1c1e"/>
<circle cx="765.1" cy="550.4" r="1.3" fill="#4a4a4e"/>
<circle cx="777.8" cy="550.9" r="3.4" fill="#1c1c1e"/>
<circle cx="778.3" cy="551.2" r="1.3" fill="#4a4a4e"/>
<circle cx="791.0" cy="551.7" r="3.4" fill="#1c1c1e"/>
<circle cx="791.5" cy="552.0" r="1.3" fill="#4a4a4e"/>
<polygon points="894.5,482.5 967.0,485.5 966.5,555 944.5,556 943.5,496 894.5,494" fill="url(#jetBackV)"/>
<polygon points="894.5,482.5 967.0,485.5 965.5,491 896.5,491" fill="#eeeef0"/>
<polygon points="908.5,484 930.5,485 928.5,491 910.5,491" fill="#c8c8cc"/>
<path d="M913.5,491 L917.5,484 L920.5,484 L916.5,491 Z" fill="#2a2a2c"/>
<polygon points="962.5,485.5 967.0,485.5 966.5,555 962.5,555" fill="#5a5a60"/>
<polygon points="963.0,488 964.5,488 964.5,554 963.0,554" fill="#b4b4ba"/>
<polygon points="868.5,494 943.5,496 944.1,566.4 870.3,563.4" fill="url(#jetFace)"/>
<polygon points="943.5,496 946.5,497 946.9,566.6 944.1,566.4" fill="#8a8a90"/>
<circle cx="884.1" cy="510.9" r="3.4" fill="#1c1c1e"/>
<circle cx="884.6" cy="511.2" r="1.3" fill="#4a4a4e"/>
<circle cx="897.3" cy="511.7" r="3.4" fill="#1c1c1e"/>
<circle cx="897.8" cy="512.0" r="1.3" fill="#4a4a4e"/>
<circle cx="910.5" cy="512.5" r="3.4" fill="#1c1c1e"/>
<circle cx="911.0" cy="512.8" r="1.3" fill="#4a4a4e"/>
<circle cx="923.7" cy="513.3" r="3.4" fill="#1c1c1e"/>
<circle cx="924.2" cy="513.6" r="1.3" fill="#4a4a4e"/>
<circle cx="884.7" cy="523.7" r="3.4" fill="#1c1c1e"/>
<circle cx="885.2" cy="524.0" r="1.3" fill="#4a4a4e"/>
<circle cx="897.9" cy="524.5" r="3.4" fill="#1c1c1e"/>
<circle cx="898.4" cy="524.8" r="1.3" fill="#4a4a4e"/>
<circle cx="911.1" cy="525.3" r="3.4" fill="#1c1c1e"/>
<circle cx="911.6" cy="525.6" r="1.3" fill="#4a4a4e"/>
<circle cx="924.3" cy="526.1" r="3.4" fill="#1c1c1e"/>
<circle cx="924.8" cy="526.4" r="1.3" fill="#4a4a4e"/>
<circle cx="885.3" cy="536.5" r="3.4" fill="#1c1c1e"/>
<circle cx="885.8" cy="536.8" r="1.3" fill="#4a4a4e"/>
<circle cx="898.5" cy="537.3" r="3.4" fill="#1c1c1e"/>
<circle cx="899.0" cy="537.6" r="1.3" fill="#4a4a4e"/>
<circle cx="911.7" cy="538.1" r="3.4" fill="#1c1c1e"/>
<circle cx="912.2" cy="538.4" r="1.3" fill="#4a4a4e"/>
<circle cx="924.9" cy="538.9" r="3.4" fill="#1c1c1e"/>
<circle cx="925.4" cy="539.2" r="1.3" fill="#4a4a4e"/>
<circle cx="885.9" cy="549.3" r="3.4" fill="#1c1c1e"/>
<circle cx="886.4" cy="549.6" r="1.3" fill="#4a4a4e"/>
<circle cx="899.1" cy="550.1" r="3.4" fill="#1c1c1e"/>
<circle cx="899.6" cy="550.4" r="1.3" fill="#4a4a4e"/>
<circle cx="912.3" cy="550.9" r="3.4" fill="#1c1c1e"/>
<circle cx="912.8" cy="551.2" r="1.3" fill="#4a4a4e"/>
<circle cx="925.5" cy="551.7" r="3.4" fill="#1c1c1e"/>
<circle cx="926.0" cy="552.0" r="1.3" fill="#4a4a4e"/>
<polygon points="529,397 674,397 735,896 553,893" fill="url(#ctrl)"/>
<polygon points="529,397 674,397 735,896 553,893" fill="url(#ctrlV)"/>
<polygon points="542.5,506 688,506 688.3,509 542.8,509" fill="#c4c4c8" opacity="0.7"/>
<rect x="575.5" y="404.0" width="14" height="9" fill="#1a1a1c"/>
<rect x="575.5" y="407.0" width="14" height="1.5" fill="#d0d0d4"/>
<text x="567.5" y="452.0" font-size="6.5" fill="#7a7a80" font-family="Liberation Sans" transform="rotate(-80 567.5 452.0)">OFF</text>
<polygon points="582.5,413 590.5,413 591.5,458 583.5,458" fill="#151517"/>
<path d="M585.5,416 Q580.5,435 586.5,452" fill="none" stroke="#e8e8ea" stroke-width="1.6"/>
<rect x="580.5" y="460.0" width="14" height="9" fill="#1a1a1c"/>
<rect x="580.5" y="463.0" width="14" height="1.5" fill="#d0d0d4"/>
<rect x="568.5" y="476.0" width="12" height="8" fill="#202022"/>
<rect x="568.5" y="479.0" width="12" height="1.2" fill="#9a9aa0"/>
<text x="572.5" y="508.0" font-size="6.5" fill="#7a7a80" font-family="Liberation Sans" transform="rotate(-80 572.5 508.0)">OFF</text>
<polygon points="587.5,469 595.5,469 596.5,514 588.5,514" fill="#151517"/>
<path d="M590.5,472 Q585.5,491 591.5,508" fill="none" stroke="#e8e8ea" stroke-width="1.6"/>
<rect x="585.0" y="519.5" width="14" height="9" fill="#1a1a1c"/>
<rect x="585.0" y="522.5" width="14" height="1.5" fill="#d0d0d4"/>
<rect x="573.0" y="535.5" width="12" height="8" fill="#202022"/>
<rect x="573.0" y="538.5" width="12" height="1.2" fill="#9a9aa0"/>
<text x="577.0" y="567.5" font-size="6.5" fill="#7a7a80" font-family="Liberation Sans" transform="rotate(-80 577.0 567.5)">OFF</text>
<polygon points="592.0,528.5 600.0,528.5 601.0,573.5 593.0,573.5" fill="#151517"/>
<path d="M595.0,531.5 Q590.0,550.5 596.0,567.5" fill="none" stroke="#e8e8ea" stroke-width="1.6"/>
<rect x="589.0" y="578.5" width="14" height="9" fill="#1a1a1c"/>
<rect x="589.0" y="581.5" width="14" height="1.5" fill="#d0d0d4"/>
<rect x="577.0" y="594.5" width="12" height="8" fill="#202022"/>
<rect x="577.0" y="597.5" width="12" height="1.2" fill="#9a9aa0"/>
<text x="581.0" y="626.5" font-size="6.5" fill="#7a7a80" font-family="Liberation Sans" transform="rotate(-80 581.0 626.5)">OFF</text>
<polygon points="596.0,587.5 604.0,587.5 605.0,632.5 597.0,632.5" fill="#151517"/>
<path d="M599.0,590.5 Q594.0,609.5 600.0,626.5" fill="none" stroke="#e8e8ea" stroke-width="1.6"/>
<rect x="594.0" y="641.0" width="14" height="9" fill="#1a1a1c"/>
<rect x="594.0" y="644.0" width="14" height="1.5" fill="#d0d0d4"/>
<rect x="582.0" y="657.0" width="12" height="8" fill="#202022"/>
<rect x="582.0" y="660.0" width="12" height="1.2" fill="#9a9aa0"/>
<text x="586.0" y="689.0" font-size="6.5" fill="#7a7a80" font-family="Liberation Sans" transform="rotate(-80 586.0 689.0)">OFF</text>
<polygon points="601.0,650 609.0,650 610.0,695 602.0,695" fill="#151517"/>
<path d="M604.0,653 Q599.0,672 605.0,689" fill="none" stroke="#e8e8ea" stroke-width="1.6"/>
<rect x="598.2" y="708.0" width="14" height="9" fill="#1a1a1c"/>
<rect x="598.2" y="711.0" width="14" height="1.5" fill="#d0d0d4"/>
<rect x="586.2" y="724.0" width="12" height="8" fill="#202022"/>
<rect x="586.2" y="727.0" width="12" height="1.2" fill="#9a9aa0"/>
<text x="590.2" y="756.0" font-size="6.5" fill="#7a7a80" font-family="Liberation Sans" transform="rotate(-80 590.2 756.0)">OFF</text>
<polygon points="605.2,717 613.2,717 614.2,762 606.2,762" fill="#151517"/>
<path d="M608.2,720 Q603.2,739 609.2,756" fill="none" stroke="#e8e8ea" stroke-width="1.6"/>
<rect x="604.2" y="778.8" width="14" height="9" fill="#1a1a1c"/>
<rect x="604.2" y="781.8" width="14" height="1.5" fill="#d0d0d4"/>
<rect x="592.2" y="794.8" width="12" height="8" fill="#202022"/>
<rect x="592.2" y="797.8" width="12" height="1.2" fill="#9a9aa0"/>
<polygon points="611.2,787.8 619.2,787.8 620.2,832.8 612.2,832.8" fill="#151517"/>
<path d="M614.2,790.8 Q609.2,809.8 615.2,826.8" fill="none" stroke="#e8e8ea" stroke-width="1.6"/>
<path d="M588.5,400 L586.0,445.2 A24,11.5 0 0,0 634.0,445.2 L636.5,400 Z" fill="url(#knob)"/>
<path d="M587.0,436.1 A24,9.4 0 0,0 635.0,436.1" fill="none" stroke="#a8a8ae" stroke-width="1.5" opacity="0.85"/>
<ellipse cx="612.5" cy="400" rx="24" ry="13.5" fill="url(#knobTop)"/>
<path d="M619.7,413.0 A24,13.5 0 0,0 636.5,400" fill="none" stroke="#9a9aa0" stroke-width="1.2"/>
<path d="M593.5,456 L591.0,504.0 A24.3,11.7 0 0,0 639.6,504.0 L642.1,456 Z" fill="url(#knob)"/>
<path d="M592.0,494.9 A24.3,9.7 0 0,0 640.6,494.9" fill="none" stroke="#a8a8ae" stroke-width="1.5" opacity="0.85"/>
<ellipse cx="617.8" cy="456" rx="24.3" ry="13.8" fill="url(#knobTop)"/>
<path d="M625.1,469.2 A24.3,13.8 0 0,0 642.1,456" fill="none" stroke="#9a9aa0" stroke-width="1.2"/>
<path d="M598.0,515.5 L595.5,562.0 A24.5,12.3 0 0,0 644.5,562.0 L647.0,515.5 Z" fill="url(#knob)"/>
<path d="M596.5,552.6 A24.5,10.1 0 0,0 645.5,552.6" fill="none" stroke="#a8a8ae" stroke-width="1.5" opacity="0.85"/>
<ellipse cx="622.5" cy="515.5" rx="24.5" ry="14.5" fill="url(#knobTop)"/>
<path d="M629.9,529.4 A24.5,14.5 0 0,0 647.0,515.5" fill="none" stroke="#9a9aa0" stroke-width="1.2"/>
<path d="M602.0,574.5 L599.5,625.0 A25,13.2 0 0,0 649.5,625.0 L652.0,574.5 Z" fill="url(#knob)"/>
<path d="M600.5,615.4 A25,10.8 0 0,0 650.5,615.4" fill="none" stroke="#a8a8ae" stroke-width="1.5" opacity="0.85"/>
<ellipse cx="627" cy="574.5" rx="25" ry="15.5" fill="url(#knobTop)"/>
<path d="M634.5,589.4 A25,15.5 0 0,0 652.0,574.5" fill="none" stroke="#9a9aa0" stroke-width="1.2"/>
<path d="M607.0,637 L604.5,691.4 A25.5,12.8 0 0,0 655.5,691.4 L658.0,637 Z" fill="url(#knob)"/>
<path d="M605.5,681.9 A25.5,10.5 0 0,0 656.5,681.9" fill="none" stroke="#a8a8ae" stroke-width="1.5" opacity="0.85"/>
<ellipse cx="632.5" cy="637" rx="25.5" ry="15" fill="url(#knobTop)"/>
<path d="M640.1,651.4 A25.5,15 0 0,0 658.0,637" fill="none" stroke="#9a9aa0" stroke-width="1.2"/>
<path d="M611.2,704 L608.7,759.8 A27.6,13.3 0 0,0 663.9,759.8 L666.4,704 Z" fill="url(#knob)"/>
<path d="M609.7,750.1 A27.6,10.9 0 0,0 664.9,750.1" fill="none" stroke="#a8a8ae" stroke-width="1.5" opacity="0.85"/>
<ellipse cx="638.8" cy="704" rx="27.6" ry="15.6" fill="url(#knobTop)"/>
<path d="M647.1,719.0 A27.6,15.6 0 0,0 666.4,704" fill="none" stroke="#9a9aa0" stroke-width="1.2"/>
<path d="M617.2,774.8 L614.7,893.0 A28.8,15.3 0 0,0 672.3,893.0 L674.8,774.8 Z" fill="url(#knob)"/>
<path d="M615.7,813.4 A28.8,12.6 0 0,0 673.3,813.4" fill="none" stroke="#a8a8ae" stroke-width="1.5" opacity="0.85"/>
<path d="M615.7,864.4 A28.8,12.6 0 0,0 673.3,864.4" fill="none" stroke="#a8a8ae" stroke-width="1.5" opacity="0.85"/>
<ellipse cx="646" cy="774.8" rx="28.8" ry="18" fill="url(#knobTop)"/>
<path d="M654.6,792.1 A28.8,18 0 0,0 674.8,774.8" fill="none" stroke="#9a9aa0" stroke-width="1.2"/>
<polygon points="554,886 715,890 715,914 554,912" fill="#1a1408"/>
<polygon points="554,886 580,887 580,897 554,896" fill="#9a7430"/>
<polygon points="690,889 715,890 715,899 690,898" fill="#8a6a2a"/>
<rect x="598" y="897" width="70" height="17" fill="url(#brass)"/>
<rect x="618" y="899" width="30" height="4" fill="#e8c078"/>
<rect x="579" y="896" width="3.5" height="22" fill="#d8d8dc"/>
<polygon points="692,896 696,896 699,921 695,921" fill="#d8d8dc"/>
<circle cx="597.0" cy="812.0" r="2.2" fill="#1a1a1c"/>
<circle cx="594.4" cy="817.0" r="2.2" fill="#1a1a1c"/>
<circle cx="592.3" cy="822.0" r="1.2" fill="#1a1a1c"/>
<circle cx="591.1" cy="827.0" r="1.2" fill="#1a1a1c"/>
<circle cx="591.0" cy="832.0" r="1.2" fill="#1a1a1c"/>
<circle cx="592.1" cy="837.0" r="1.2" fill="#1a1a1c"/>
<circle cx="594.3" cy="842.0" r="1.2" fill="#1a1a1c"/>
<circle cx="597.4" cy="847.0" r="1.2" fill="#1a1a1c"/>
<circle cx="601.0" cy="852.0" r="1.2" fill="#1a1a1c"/>
<rect x="412" y="797" width="26" height="24" rx="4" fill="url(#chromeH)"/>
<ellipse cx="425" cy="799.5" rx="12" ry="3" fill="#f0f0f2"/>
<rect x="413" y="815" width="24" height="5" fill="#2a2a2c"/>
<polygon points="380,846 492,846 492,864 396,864" fill="url(#spoutUnder)"/>
<rect x="412" y="846" width="26" height="27" rx="2" fill="url(#chromeH)"/>
<rect x="412" y="852" width="26" height="1.5" fill="#6a6a70"/>
<rect x="412" y="857" width="26" height="1.5" fill="#6a6a70"/>
<rect x="412" y="862" width="26" height="1.5" fill="#6a6a70"/>
<ellipse cx="425" cy="869" rx="10" ry="4" fill="#2a2a2c"/>
<rect x="354" y="823" width="138" height="24" fill="#fbfbfc"/>
<polygon points="354,823 358,823 360,846 354,846" fill="#e0e0e4"/>
<ellipse cx="371" cy="850" rx="15" ry="11" fill="#dadade" transform="rotate(22 371 850)"/>
<ellipse cx="369" cy="852" rx="11" ry="7.5" fill="#4a4a4e" transform="rotate(22 369 852)"/>
<rect x="491" y="808" width="8" height="66" fill="#e8e8ec"/>
<rect x="497" y="808" width="2" height="66" fill="#8a8a90"/>
<rect x="499" y="820" width="11" height="42" fill="url(#brassD)"/>
<rect x="508" y="829" width="23" height="25" rx="2" fill="url(#brass)"/>
<polygon points="925.5,778 934,770 950.6,845 942,851.5" fill="#36363a"/>
<polygon points="925.5,778 927.5,776 944,850 942,851.5" fill="#505056"/>
<polygon points="831,878 916,806 920,830 838,901" fill="url(#holderFront)"/>
<polygon points="776,842.8 865,769.6 919,800.8 916,806 831,878" fill="url(#holderTop)"/>
<polygon points="862,773 877,758 925,781 919,801 916,806" fill="#d6d6de"/>
<polygon points="862,773 877,758 925,781 921,788 870,766" fill="#ececf2"/>
<polygon points="847.2,737.2 855.6,730.7 933.6,769.6 925.2,778" fill="#f6f6f8"/>
<ellipse cx="826" cy="840.5" rx="27" ry="23.5" fill="#060608"/>
<path d="M803,829 A27,23.5 0 0,1 851,833" fill="none" stroke="#b8b8be" stroke-width="1.3"/>
<ellipse cx="814" cy="847" rx="11" ry="15" fill="#1c1c20"/>
<path d="M71.0,850.0 L71.0,838.8 L71.1,836.9 L71.3,835.1 L71.5,833.3 L71.8,831.5 L72.1,829.7 L72.5,827.9 L72.9,826.1 L73.4,824.4 L73.9,822.6 L74.5,820.8 L75.1,819.1 L75.8,817.4 L76.5,815.6 L77.3,813.9 L78.1,812.2 L79.0,810.6 L80.0,808.9 L80.9,807.3 L82.0,805.6 L83.0,804.0 L84.1,802.4 L85.3,800.9 L86.5,799.3 L87.7,797.8 L89.0,796.3 L90.4,794.8 L91.7,793.4 L93.2,791.9 L94.6,790.5 L96.1,789.1 L97.7,787.8 L99.2,786.5 L100.8,785.2 L102.5,783.9 L104.2,782.6 L105.9,781.4 L107.6,780.3 L109.4,779.1 L111.2,778.0 L113.1,776.9 L114.9,775.8 L116.9,774.8 L118.8,773.8 L120.7,772.9 L122.7,772.0 L124.7,771.1 L126.8,770.2 L128.8,769.4 L130.9,768.6 L133.0,767.9 L135.1,767.2 L137.2,766.5 L139.4,765.9 L141.6,765.3 L143.7,764.7 L145.9,764.2 L148.1,763.7 L150.4,763.3 L152.6,762.9 L154.8,762.5 L157.1,762.2 L159.3,761.9 L161.6,761.6 L163.9,761.4 L166.1,761.3 L168.4,761.1 L170.7,761.0 L173.0,761.0 L175.2,761.0 L177.5,761.0 L179.8,761.1 L182.0,761.2 L184.3,761.3 L186.5,761.5 L188.8,761.7 L191.0,762.0 L193.2,762.3 L195.5,762.6 L197.7,763.0 L199.8,763.4 L202.0,763.8 L204.2,764.3 L206.3,764.8 L208.4,765.4 L210.6,766.0 L212.6,766.6 L214.7,767.3 L216.8,768.0 L218.8,768.7 L220.8,769.5 L222.7,770.3 L224.7,771.1 L226.6,772.0 L228.5,772.9 L230.4,773.8 L232.2,774.8 L234.0,775.8 L235.8,776.8 L237.5,777.9 L239.3,779.0 L240.9,780.1 L242.6,781.2 L244.2,782.4 L245.8,783.6 L247.3,784.8 L248.8,786.1 L250.3,787.3 L251.7,788.6 L253.1,790.0 L254.4,791.3 L255.7,792.7 L257.0,794.1 L258.2,795.5 L259.4,796.9 L260.5,798.4 L261.6,799.8 L262.7,801.3 L263.7,802.8 L264.6,804.3 L265.5,805.9 L266.4,807.4 L267.2,809.0 L268.0,810.5 L268.8,812.1 L269.4,813.7 L270.1,815.3 L270.7,817.0 L271.2,818.6 L271.7,820.2 L272.2,821.9 L272.6,823.5 L272.9,825.2 L273.2,826.8 L273.5,828.5 L273.7,830.2 L273.8,831.8 L274.0,833.5 L274.0,835.2 L274.0,836.8" fill="none" stroke="#161618" stroke-width="14" stroke-linejoin="round"/>
<path d="M71.0,850.0 L71.0,838.8 L71.1,836.9 L71.3,835.1 L71.5,833.3 L71.8,831.5 L72.1,829.7 L72.5,827.9 L72.9,826.1 L73.4,824.4 L73.9,822.6 L74.5,820.8 L75.1,819.1 L75.8,817.4 L76.5,815.6 L77.3,813.9 L78.1,812.2 L79.0,810.6 L80.0,808.9 L80.9,807.3 L82.0,805.6 L83.0,804.0 L84.1,802.4 L85.3,800.9 L86.5,799.3 L87.7,797.8 L89.0,796.3 L90.4,794.8 L91.7,793.4 L93.2,791.9 L94.6,790.5 L96.1,789.1 L97.7,787.8 L99.2,786.5 L100.8,785.2 L102.5,783.9 L104.2,782.6 L105.9,781.4 L107.6,780.3 L109.4,779.1 L111.2,778.0 L113.1,776.9 L114.9,775.8 L116.9,774.8 L118.8,773.8 L120.7,772.9 L122.7,772.0 L124.7,771.1 L126.8,770.2 L128.8,769.4 L130.9,768.6 L133.0,767.9 L135.1,767.2 L137.2,766.5 L139.4,765.9 L141.6,765.3 L143.7,764.7 L145.9,764.2 L148.1,763.7 L150.4,763.3 L152.6,762.9 L154.8,762.5 L157.1,762.2 L159.3,761.9 L161.6,761.6 L163.9,761.4 L166.1,761.3 L168.4,761.1 L170.7,761.0 L173.0,761.0 L175.2,761.0 L177.5,761.0 L179.8,761.1 L182.0,761.2 L184.3,761.3 L186.5,761.5 L188.8,761.7 L191.0,762.0 L193.2,762.3 L195.5,762.6 L197.7,763.0 L199.8,763.4 L202.0,763.8 L204.2,764.3 L206.3,764.8 L208.4,765.4 L210.6,766.0 L212.6,766.6 L214.7,767.3 L216.8,768.0 L218.8,768.7 L220.8,769.5 L222.7,770.3 L224.7,771.1 L226.6,772.0 L228.5,772.9 L230.4,773.8 L232.2,774.8 L234.0,775.8 L235.8,776.8 L237.5,777.9 L239.3,779.0 L240.9,780.1 L242.6,781.2 L244.2,782.4 L245.8,783.6 L247.3,784.8 L248.8,786.1 L250.3,787.3 L251.7,788.6 L253.1,790.0 L254.4,791.3 L255.7,792.7 L257.0,794.1 L258.2,795.5 L259.4,796.9 L260.5,798.4 L261.6,799.8 L262.7,801.3 L263.7,802.8 L264.6,804.3 L265.5,805.9 L266.4,807.4 L267.2,809.0 L268.0,810.5 L268.8,812.1 L269.4,813.7 L270.1,815.3 L270.7,817.0 L271.2,818.6 L271.7,820.2 L272.2,821.9 L272.6,823.5 L272.9,825.2 L273.2,826.8 L273.5,828.5 L273.7,830.2 L273.8,831.8 L274.0,833.5 L274.0,835.2 L274.0,836.8" fill="none" stroke="#e4e4e8" stroke-width="11" stroke-linejoin="round"/>
<path d="M71.0,850.0 L71.0,838.8 L71.1,836.9 L71.3,835.1 L71.5,833.3 L71.8,831.5 L72.1,829.7 L72.5,827.9 L72.9,826.1 L73.4,824.4 L73.9,822.6 L74.5,820.8 L75.1,819.1 L75.8,817.4 L76.5,815.6 L77.3,813.9 L78.1,812.2 L79.0,810.6 L80.0,808.9 L80.9,807.3 L82.0,805.6 L83.0,804.0 L84.1,802.4 L85.3,800.9 L86.5,799.3 L87.7,797.8 L89.0,796.3 L90.4,794.8 L91.7,793.4 L93.2,791.9 L94.6,790.5 L96.1,789.1 L97.7,787.8 L99.2,786.5 L100.8,785.2 L102.5,783.9 L104.2,782.6 L105.9,781.4 L107.6,780.3 L109.4,779.1 L111.2,778.0 L113.1,776.9 L114.9,775.8 L116.9,774.8 L118.8,773.8 L120.7,772.9 L122.7,772.0 L124.7,771.1 L126.8,770.2 L128.8,769.4 L130.9,768.6 L133.0,767.9 L135.1,767.2 L137.2,766.5 L139.4,765.9 L141.6,765.3 L143.7,764.7 L145.9,764.2 L148.1,763.7 L150.4,763.3 L152.6,762.9 L154.8,762.5 L157.1,762.2 L159.3,761.9 L161.6,761.6 L163.9,761.4 L166.1,761.3 L168.4,761.1 L170.7,761.0 L173.0,761.0 L175.2,761.0 L177.5,761.0 L179.8,761.1 L182.0,761.2 L184.3,761.3 L186.5,761.5 L188.8,761.7 L191.0,762.0 L193.2,762.3 L195.5,762.6 L197.7,763.0 L199.8,763.4 L202.0,763.8 L204.2,764.3 L206.3,764.8 L208.4,765.4 L210.6,766.0 L212.6,766.6 L214.7,767.3 L216.8,768.0 L218.8,768.7 L220.8,769.5 L222.7,770.3 L224.7,771.1 L226.6,772.0 L228.5,772.9 L230.4,773.8 L232.2,774.8 L234.0,775.8 L235.8,776.8 L237.5,777.9 L239.3,779.0 L240.9,780.1 L242.6,781.2 L244.2,782.4 L245.8,783.6 L247.3,784.8 L248.8,786.1 L250.3,787.3 L251.7,788.6 L253.1,790.0 L254.4,791.3 L255.7,792.7 L257.0,794.1 L258.2,795.5 L259.4,796.9 L260.5,798.4 L261.6,799.8 L262.7,801.3 L263.7,802.8 L264.6,804.3 L265.5,805.9 L266.4,807.4 L267.2,809.0 L268.0,810.5 L268.8,812.1 L269.4,813.7 L270.1,815.3 L270.7,817.0 L271.2,818.6 L271.7,820.2 L272.2,821.9 L272.6,823.5 L272.9,825.2 L273.2,826.8 L273.5,828.5 L273.7,830.2 L273.8,831.8 L274.0,833.5 L274.0,835.2 L274.0,836.8" fill="none" stroke="#80808a" stroke-width="11" stroke-dasharray="1.4 2.5"/>
<path d="M71.0,850.0 L71.0,838.8 L71.1,836.9 L71.3,835.1 L71.5,833.3 L71.8,831.5 L72.1,829.7 L72.5,827.9 L72.9,826.1 L73.4,824.4 L73.9,822.6 L74.5,820.8 L75.1,819.1 L75.8,817.4 L76.5,815.6 L77.3,813.9 L78.1,812.2 L79.0,810.6 L80.0,808.9 L80.9,807.3 L82.0,805.6 L83.0,804.0 L84.1,802.4 L85.3,800.9 L86.5,799.3 L87.7,797.8 L89.0,796.3 L90.4,794.8 L91.7,793.4 L93.2,791.9 L94.6,790.5 L96.1,789.1 L97.7,787.8 L99.2,786.5 L100.8,785.2 L102.5,783.9 L104.2,782.6 L105.9,781.4 L107.6,780.3 L109.4,779.1 L111.2,778.0 L113.1,776.9 L114.9,775.8 L116.9,774.8 L118.8,773.8 L120.7,772.9 L122.7,772.0 L124.7,771.1 L126.8,770.2 L128.8,769.4 L130.9,768.6 L133.0,767.9 L135.1,767.2 L137.2,766.5 L139.4,765.9 L141.6,765.3 L143.7,764.7 L145.9,764.2 L148.1,763.7 L150.4,763.3 L152.6,762.9 L154.8,762.5 L157.1,762.2 L159.3,761.9 L161.6,761.6 L163.9,761.4 L166.1,761.3 L168.4,761.1 L170.7,761.0 L173.0,761.0 L175.2,761.0 L177.5,761.0 L179.8,761.1 L182.0,761.2 L184.3,761.3 L186.5,761.5 L188.8,761.7 L191.0,762.0 L193.2,762.3 L195.5,762.6 L197.7,763.0 L199.8,763.4 L202.0,763.8 L204.2,764.3 L206.3,764.8 L208.4,765.4 L210.6,766.0 L212.6,766.6 L214.7,767.3 L216.8,768.0 L218.8,768.7 L220.8,769.5 L222.7,770.3 L224.7,771.1 L226.6,772.0 L228.5,772.9 L230.4,773.8 L232.2,774.8 L234.0,775.8 L235.8,776.8 L237.5,777.9 L239.3,779.0 L240.9,780.1 L242.6,781.2 L244.2,782.4 L245.8,783.6 L247.3,784.8 L248.8,786.1 L250.3,787.3 L251.7,788.6 L253.1,790.0 L254.4,791.3 L255.7,792.7 L257.0,794.1 L258.2,795.5 L259.4,796.9 L260.5,798.4 L261.6,799.8 L262.7,801.3 L263.7,802.8 L264.6,804.3 L265.5,805.9 L266.4,807.4 L267.2,809.0 L268.0,810.5 L268.8,812.1 L269.4,813.7 L270.1,815.3 L270.7,817.0 L271.2,818.6 L271.7,820.2 L272.2,821.9 L272.6,823.5 L272.9,825.2 L273.2,826.8 L273.5,828.5 L273.7,830.2 L273.8,831.8 L274.0,833.5 L274.0,835.2 L274.0,836.8" fill="none" stroke="#ffffff" stroke-width="3.2" stroke-opacity="0.55" stroke-linejoin="round"/>
<path d="M274.0,836.8 L274.0,838.5 L273.9,840.2 L273.8,841.8 L273.6,843.5 L273.4,845.1 L273.1,846.8 L272.8,848.4 L272.4,850.1 L272.0,851.7 L271.6,853.3 L271.1,854.9 L270.5,856.5 L269.9,858.1 L269.3,859.7 L268.6,861.3 L267.8,862.8 L267.1,864.3 L266.3,865.9 L265.4,867.4 L264.5,868.9 L263.5,870.3 L262.6,871.8 L261.5,873.2 L260.5,874.6 L259.4,876.0 L258.2,877.4 L257.0,878.8 L255.8,880.1 L254.5,881.4 L253.2,882.7 L251.9,884.0 L250.6,885.2 L249.2,886.4 L247.7,887.6 L246.3,888.7 L244.8,889.9 L243.2,891.0 L241.7,892.1 L240.1,893.1 L238.5,894.1 L236.8,895.1 L235.2,896.1 L233.5,897.0 L231.8,897.9 L230.0,898.8 L228.2,899.6 L226.5,900.4 L224.6,901.2 L222.8,901.9 L221.0,902.7 L219.1,903.3 L217.2,904.0 L215.3,904.6 L213.4,905.2 L211.5,905.7 L209.5,906.2 L207.6,906.7 L205.6,907.1 L203.6,907.5 L201.6,907.9 L199.7,908.2 L197.7,908.5 L195.6,908.7 L193.6,909.0 L191.6,909.1 L189.6,909.3 L187.6,909.4 L185.6,909.5 L183.5,909.5 L181.5,909.5 L179.5,909.5 L177.5,909.4 L175.5,909.3 L173.5,909.2 L171.5,909.0 L169.5,908.8 L167.5,908.6 L165.5,908.3 L163.6,908.0 L161.6,907.6 L159.7,907.2 L157.7,906.8 L155.8,906.4 L153.9,905.9 L152.0,905.4 L150.2,904.8 L148.3,904.2 L146.5,903.6 L144.7,903.0 L142.9,902.3 L141.1,901.6 L139.4,900.8 L137.7,900.1 L136.0,899.3 L134.3,898.4 L132.7,897.6 L131.0,896.7 L129.4,895.8 L127.9,894.8 L126.3,893.8 L124.8,892.8 L123.4,891.8 L121.9,890.8 L120.5,889.7 L119.1,888.6 L117.8,887.5 L116.5,886.3 L115.2,885.1 L113.9,883.9 L112.7,882.7 L111.5,881.5 L110.4,880.2 L109.3,879.0 L108.2,877.7 L107.2,876.4 L106.2,875.0 L105.3,873.7 L104.4,872.3 L103.5,870.9 L102.7,869.5 L101.9,868.1 L101.1,866.7 L100.4,865.3 L99.8,863.8 L99.2,862.4 L98.6,860.9 L98.0,859.5 L97.5,858.0 L97.1,856.5 L96.7,855.0 L96.3,853.5 L96.0,852.0 L95.7,850.5 L95.5,848.9 L95.3,847.4 L95.1,845.9 L95.0,844.4 L94.9,842.8 L94.9,841.3 L94.9,839.8" fill="none" stroke="#161618" stroke-width="14" stroke-linejoin="round"/>
<path d="M274.0,836.8 L274.0,838.5 L273.9,840.2 L273.8,841.8 L273.6,843.5 L273.4,845.1 L273.1,846.8 L272.8,848.4 L272.4,850.1 L272.0,851.7 L271.6,853.3 L271.1,854.9 L270.5,856.5 L269.9,858.1 L269.3,859.7 L268.6,861.3 L267.8,862.8 L267.1,864.3 L266.3,865.9 L265.4,867.4 L264.5,868.9 L263.5,870.3 L262.6,871.8 L261.5,873.2 L260.5,874.6 L259.4,876.0 L258.2,877.4 L257.0,878.8 L255.8,880.1 L254.5,881.4 L253.2,882.7 L251.9,884.0 L250.6,885.2 L249.2,886.4 L247.7,887.6 L246.3,888.7 L244.8,889.9 L243.2,891.0 L241.7,892.1 L240.1,893.1 L238.5,894.1 L236.8,895.1 L235.2,896.1 L233.5,897.0 L231.8,897.9 L230.0,898.8 L228.2,899.6 L226.5,900.4 L224.6,901.2 L222.8,901.9 L221.0,902.7 L219.1,903.3 L217.2,904.0 L215.3,904.6 L213.4,905.2 L211.5,905.7 L209.5,906.2 L207.6,906.7 L205.6,907.1 L203.6,907.5 L201.6,907.9 L199.7,908.2 L197.7,908.5 L195.6,908.7 L193.6,909.0 L191.6,909.1 L189.6,909.3 L187.6,909.4 L185.6,909.5 L183.5,909.5 L181.5,909.5 L179.5,909.5 L177.5,909.4 L175.5,909.3 L173.5,909.2 L171.5,909.0 L169.5,908.8 L167.5,908.6 L165.5,908.3 L163.6,908.0 L161.6,907.6 L159.7,907.2 L157.7,906.8 L155.8,906.4 L153.9,905.9 L152.0,905.4 L150.2,904.8 L148.3,904.2 L146.5,903.6 L144.7,903.0 L142.9,902.3 L141.1,901.6 L139.4,900.8 L137.7,900.1 L136.0,899.3 L134.3,898.4 L132.7,897.6 L131.0,896.7 L129.4,895.8 L127.9,894.8 L126.3,893.8 L124.8,892.8 L123.4,891.8 L121.9,890.8 L120.5,889.7 L119.1,888.6 L117.8,887.5 L116.5,886.3 L115.2,885.1 L113.9,883.9 L112.7,882.7 L111.5,881.5 L110.4,880.2 L109.3,879.0 L108.2,877.7 L107.2,876.4 L106.2,875.0 L105.3,873.7 L104.4,872.3 L103.5,870.9 L102.7,869.5 L101.9,868.1 L101.1,866.7 L100.4,865.3 L99.8,863.8 L99.2,862.4 L98.6,860.9 L98.0,859.5 L97.5,858.0 L97.1,856.5 L96.7,855.0 L96.3,853.5 L96.0,852.0 L95.7,850.5 L95.5,848.9 L95.3,847.4 L95.1,845.9 L95.0,844.4 L94.9,842.8 L94.9,841.3 L94.9,839.8" fill="none" stroke="#e4e4e8" stroke-width="11" stroke-linejoin="round"/>
<path d="M274.0,836.8 L274.0,838.5 L273.9,840.2 L273.8,841.8 L273.6,843.5 L273.4,845.1 L273.1,846.8 L272.8,848.4 L272.4,850.1 L272.0,851.7 L271.6,853.3 L271.1,854.9 L270.5,856.5 L269.9,858.1 L269.3,859.7 L268.6,861.3 L267.8,862.8 L267.1,864.3 L266.3,865.9 L265.4,867.4 L264.5,868.9 L263.5,870.3 L262.6,871.8 L261.5,873.2 L260.5,874.6 L259.4,876.0 L258.2,877.4 L257.0,878.8 L255.8,880.1 L254.5,881.4 L253.2,882.7 L251.9,884.0 L250.6,885.2 L249.2,886.4 L247.7,887.6 L246.3,888.7 L244.8,889.9 L243.2,891.0 L241.7,892.1 L240.1,893.1 L238.5,894.1 L236.8,895.1 L235.2,896.1 L233.5,897.0 L231.8,897.9 L230.0,898.8 L228.2,899.6 L226.5,900.4 L224.6,901.2 L222.8,901.9 L221.0,902.7 L219.1,903.3 L217.2,904.0 L215.3,904.6 L213.4,905.2 L211.5,905.7 L209.5,906.2 L207.6,906.7 L205.6,907.1 L203.6,907.5 L201.6,907.9 L199.7,908.2 L197.7,908.5 L195.6,908.7 L193.6,909.0 L191.6,909.1 L189.6,909.3 L187.6,909.4 L185.6,909.5 L183.5,909.5 L181.5,909.5 L179.5,909.5 L177.5,909.4 L175.5,909.3 L173.5,909.2 L171.5,909.0 L169.5,908.8 L167.5,908.6 L165.5,908.3 L163.6,908.0 L161.6,907.6 L159.7,907.2 L157.7,906.8 L155.8,906.4 L153.9,905.9 L152.0,905.4 L150.2,904.8 L148.3,904.2 L146.5,903.6 L144.7,903.0 L142.9,902.3 L141.1,901.6 L139.4,900.8 L137.7,900.1 L136.0,899.3 L134.3,898.4 L132.7,897.6 L131.0,896.7 L129.4,895.8 L127.9,894.8 L126.3,893.8 L124.8,892.8 L123.4,891.8 L121.9,890.8 L120.5,889.7 L119.1,888.6 L117.8,887.5 L116.5,886.3 L115.2,885.1 L113.9,883.9 L112.7,882.7 L111.5,881.5 L110.4,880.2 L109.3,879.0 L108.2,877.7 L107.2,876.4 L106.2,875.0 L105.3,873.7 L104.4,872.3 L103.5,870.9 L102.7,869.5 L101.9,868.1 L101.1,866.7 L100.4,865.3 L99.8,863.8 L99.2,862.4 L98.6,860.9 L98.0,859.5 L97.5,858.0 L97.1,856.5 L96.7,855.0 L96.3,853.5 L96.0,852.0 L95.7,850.5 L95.5,848.9 L95.3,847.4 L95.1,845.9 L95.0,844.4 L94.9,842.8 L94.9,841.3 L94.9,839.8" fill="none" stroke="#80808a" stroke-width="11" stroke-dasharray="1.4 2.5"/>
<path d="M274.0,836.8 L274.0,838.5 L273.9,840.2 L273.8,841.8 L273.6,843.5 L273.4,845.1 L273.1,846.8 L272.8,848.4 L272.4,850.1 L272.0,851.7 L271.6,853.3 L271.1,854.9 L270.5,856.5 L269.9,858.1 L269.3,859.7 L268.6,861.3 L267.8,862.8 L267.1,864.3 L266.3,865.9 L265.4,867.4 L264.5,868.9 L263.5,870.3 L262.6,871.8 L261.5,873.2 L260.5,874.6 L259.4,876.0 L258.2,877.4 L257.0,878.8 L255.8,880.1 L254.5,881.4 L253.2,882.7 L251.9,884.0 L250.6,885.2 L249.2,886.4 L247.7,887.6 L246.3,888.7 L244.8,889.9 L243.2,891.0 L241.7,892.1 L240.1,893.1 L238.5,894.1 L236.8,895.1 L235.2,896.1 L233.5,897.0 L231.8,897.9 L230.0,898.8 L228.2,899.6 L226.5,900.4 L224.6,901.2 L222.8,901.9 L221.0,902.7 L219.1,903.3 L217.2,904.0 L215.3,904.6 L213.4,905.2 L211.5,905.7 L209.5,906.2 L207.6,906.7 L205.6,907.1 L203.6,907.5 L201.6,907.9 L199.7,908.2 L197.7,908.5 L195.6,908.7 L193.6,909.0 L191.6,909.1 L189.6,909.3 L187.6,909.4 L185.6,909.5 L183.5,909.5 L181.5,909.5 L179.5,909.5 L177.5,909.4 L175.5,909.3 L173.5,909.2 L171.5,909.0 L169.5,908.8 L167.5,908.6 L165.5,908.3 L163.6,908.0 L161.6,907.6 L159.7,907.2 L157.7,906.8 L155.8,906.4 L153.9,905.9 L152.0,905.4 L150.2,904.8 L148.3,904.2 L146.5,903.6 L144.7,903.0 L142.9,902.3 L141.1,901.6 L139.4,900.8 L137.7,900.1 L136.0,899.3 L134.3,898.4 L132.7,897.6 L131.0,896.7 L129.4,895.8 L127.9,894.8 L126.3,893.8 L124.8,892.8 L123.4,891.8 L121.9,890.8 L120.5,889.7 L119.1,888.6 L117.8,887.5 L116.5,886.3 L115.2,885.1 L113.9,883.9 L112.7,882.7 L111.5,881.5 L110.4,880.2 L109.3,879.0 L108.2,877.7 L107.2,876.4 L106.2,875.0 L105.3,873.7 L104.4,872.3 L103.5,870.9 L102.7,869.5 L101.9,868.1 L101.1,866.7 L100.4,865.3 L99.8,863.8 L99.2,862.4 L98.6,860.9 L98.0,859.5 L97.5,858.0 L97.1,856.5 L96.7,855.0 L96.3,853.5 L96.0,852.0 L95.7,850.5 L95.5,848.9 L95.3,847.4 L95.1,845.9 L95.0,844.4 L94.9,842.8 L94.9,841.3 L94.9,839.8" fill="none" stroke="#ffffff" stroke-width="3.2" stroke-opacity="0.55" stroke-linejoin="round"/>
<path d="M94.9,839.8 L95.0,838.2 L95.1,836.7 L95.2,835.2 L95.3,833.7 L95.5,832.2 L95.8,830.7 L96.1,829.2 L96.4,827.7 L96.8,826.2 L97.2,824.7 L97.6,823.2 L98.1,821.8 L98.7,820.3 L99.2,818.9 L99.8,817.5 L100.5,816.0 L101.2,814.6 L101.9,813.2 L102.7,811.9 L103.5,810.5 L104.4,809.2 L105.2,807.8 L106.2,806.5 L107.1,805.2 L108.1,804.0 L109.1,802.7 L110.2,801.5 L111.3,800.3 L112.4,799.1 L113.6,797.9 L114.8,796.7 L116.0,795.6 L117.3,794.5 L118.6,793.4 L119.9,792.4 L121.2,791.3 L122.6,790.3 L124.0,789.4 L125.4,788.4 L126.9,787.5 L128.4,786.6 L129.9,785.7 L131.4,784.8 L133.0,784.0 L134.5,783.2 L136.1,782.5 L137.7,781.7 L139.4,781.0 L141.0,780.4 L142.7,779.7 L144.4,779.1 L146.1,778.5 L147.8,778.0 L149.5,777.4 L151.3,777.0 L153.0,776.5 L154.8,776.1 L156.6,775.7 L158.4,775.3 L160.2,775.0 L162.0,774.7 L163.8,774.4 L165.6,774.2 L167.4,774.0 L169.3,773.8 L171.1,773.7 L172.9,773.6 L174.8,773.5 L176.6,773.5 L178.4,773.5 L180.2,773.5 L182.1,773.6 L183.9,773.7 L185.7,773.8 L187.5,773.9 L189.4,774.1 L191.2,774.4 L193.0,774.6 L194.7,774.9 L196.5,775.2 L198.3,775.6 L200.0,775.9 L201.8,776.3 L203.5,776.8 L205.2,777.3 L206.9,777.8 L208.6,778.3 L210.3,778.8 L211.9,779.4 L213.6,780.1 L215.2,780.7 L216.8,781.4 L218.4,782.1 L219.9,782.8 L221.4,783.6 L222.9,784.3 L224.4,785.2 L225.9,786.0 L227.3,786.8 L228.7,787.7 L230.1,788.6 L231.5,789.6 L232.8,790.5 L234.1,791.5 L235.4,792.5 L236.6,793.5 L237.8,794.6 L239.0,795.6 L240.1,796.7 L241.3,797.8 L242.3,798.9 L243.4,800.1 L244.4,801.2 L245.4,802.4 L246.4,803.6 L247.3,804.8 L248.1,806.0 L249.0,807.2 L249.8,808.5 L250.6,809.7 L251.3,811.0 L252.0,812.3 L252.7,813.6 L253.3,814.9 L253.9,816.2 L254.4,817.5 L254.9,818.9 L255.4,820.2 L255.9,821.5 L256.2,822.9 L256.6,824.3 L256.9,825.6 L257.2,827.0 L257.4,828.4 L257.6,829.7 L257.8,831.1 L257.9,832.5 L258.0,833.9 L258.0,835.2 L258.0,836.6" fill="none" stroke="#161618" stroke-width="14" stroke-linejoin="round"/>
<path d="M94.9,839.8 L95.0,838.2 L95.1,836.7 L95.2,835.2 L95.3,833.7 L95.5,832.2 L95.8,830.7 L96.1,829.2 L96.4,827.7 L96.8,826.2 L97.2,824.7 L97.6,823.2 L98.1,821.8 L98.7,820.3 L99.2,818.9 L99.8,817.5 L100.5,816.0 L101.2,814.6 L101.9,813.2 L102.7,811.9 L103.5,810.5 L104.4,809.2 L105.2,807.8 L106.2,806.5 L107.1,805.2 L108.1,804.0 L109.1,802.7 L110.2,801.5 L111.3,800.3 L112.4,799.1 L113.6,797.9 L114.8,796.7 L116.0,795.6 L117.3,794.5 L118.6,793.4 L119.9,792.4 L121.2,791.3 L122.6,790.3 L124.0,789.4 L125.4,788.4 L126.9,787.5 L128.4,786.6 L129.9,785.7 L131.4,784.8 L133.0,784.0 L134.5,783.2 L136.1,782.5 L137.7,781.7 L139.4,781.0 L141.0,780.4 L142.7,779.7 L144.4,779.1 L146.1,778.5 L147.8,778.0 L149.5,777.4 L151.3,777.0 L153.0,776.5 L154.8,776.1 L156.6,775.7 L158.4,775.3 L160.2,775.0 L162.0,774.7 L163.8,774.4 L165.6,774.2 L167.4,774.0 L169.3,773.8 L171.1,773.7 L172.9,773.6 L174.8,773.5 L176.6,773.5 L178.4,773.5 L180.2,773.5 L182.1,773.6 L183.9,773.7 L185.7,773.8 L187.5,773.9 L189.4,774.1 L191.2,774.4 L193.0,774.6 L194.7,774.9 L196.5,775.2 L198.3,775.6 L200.0,775.9 L201.8,776.3 L203.5,776.8 L205.2,777.3 L206.9,777.8 L208.6,778.3 L210.3,778.8 L211.9,779.4 L213.6,780.1 L215.2,780.7 L216.8,781.4 L218.4,782.1 L219.9,782.8 L221.4,783.6 L222.9,784.3 L224.4,785.2 L225.9,786.0 L227.3,786.8 L228.7,787.7 L230.1,788.6 L231.5,789.6 L232.8,790.5 L234.1,791.5 L235.4,792.5 L236.6,793.5 L237.8,794.6 L239.0,795.6 L240.1,796.7 L241.3,797.8 L242.3,798.9 L243.4,800.1 L244.4,801.2 L245.4,802.4 L246.4,803.6 L247.3,804.8 L248.1,806.0 L249.0,807.2 L249.8,808.5 L250.6,809.7 L251.3,811.0 L252.0,812.3 L252.7,813.6 L253.3,814.9 L253.9,816.2 L254.4,817.5 L254.9,818.9 L255.4,820.2 L255.9,821.5 L256.2,822.9 L256.6,824.3 L256.9,825.6 L257.2,827.0 L257.4,828.4 L257.6,829.7 L257.8,831.1 L257.9,832.5 L258.0,833.9 L258.0,835.2 L258.0,836.6" fill="none" stroke="#e4e4e8" stroke-width="11" stroke-linejoin="round"/>
<path d="M94.9,839.8 L95.0,838.2 L95.1,836.7 L95.2,835.2 L95.3,833.7 L95.5,832.2 L95.8,830.7 L96.1,829.2 L96.4,827.7 L96.8,826.2 L97.2,824.7 L97.6,823.2 L98.1,821.8 L98.7,820.3 L99.2,818.9 L99.8,817.5 L100.5,816.0 L101.2,814.6 L101.9,813.2 L102.7,811.9 L103.5,810.5 L104.4,809.2 L105.2,807.8 L106.2,806.5 L107.1,805.2 L108.1,804.0 L109.1,802.7 L110.2,801.5 L111.3,800.3 L112.4,799.1 L113.6,797.9 L114.8,796.7 L116.0,795.6 L117.3,794.5 L118.6,793.4 L119.9,792.4 L121.2,791.3 L122.6,790.3 L124.0,789.4 L125.4,788.4 L126.9,787.5 L128.4,786.6 L129.9,785.7 L131.4,784.8 L133.0,784.0 L134.5,783.2 L136.1,782.5 L137.7,781.7 L139.4,781.0 L141.0,780.4 L142.7,779.7 L144.4,779.1 L146.1,778.5 L147.8,778.0 L149.5,777.4 L151.3,777.0 L153.0,776.5 L154.8,776.1 L156.6,775.7 L158.4,775.3 L160.2,775.0 L162.0,774.7 L163.8,774.4 L165.6,774.2 L167.4,774.0 L169.3,773.8 L171.1,773.7 L172.9,773.6 L174.8,773.5 L176.6,773.5 L178.4,773.5 L180.2,773.5 L182.1,773.6 L183.9,773.7 L185.7,773.8 L187.5,773.9 L189.4,774.1 L191.2,774.4 L193.0,774.6 L194.7,774.9 L196.5,775.2 L198.3,775.6 L200.0,775.9 L201.8,776.3 L203.5,776.8 L205.2,777.3 L206.9,777.8 L208.6,778.3 L210.3,778.8 L211.9,779.4 L213.6,780.1 L215.2,780.7 L216.8,781.4 L218.4,782.1 L219.9,782.8 L221.4,783.6 L222.9,784.3 L224.4,785.2 L225.9,786.0 L227.3,786.8 L228.7,787.7 L230.1,788.6 L231.5,789.6 L232.8,790.5 L234.1,791.5 L235.4,792.5 L236.6,793.5 L237.8,794.6 L239.0,795.6 L240.1,796.7 L241.3,797.8 L242.3,798.9 L243.4,800.1 L244.4,801.2 L245.4,802.4 L246.4,803.6 L247.3,804.8 L248.1,806.0 L249.0,807.2 L249.8,808.5 L250.6,809.7 L251.3,811.0 L252.0,812.3 L252.7,813.6 L253.3,814.9 L253.9,816.2 L254.4,817.5 L254.9,818.9 L255.4,820.2 L255.9,821.5 L256.2,822.9 L256.6,824.3 L256.9,825.6 L257.2,827.0 L257.4,828.4 L257.6,829.7 L257.8,831.1 L257.9,832.5 L258.0,833.9 L258.0,835.2 L258.0,836.6" fill="none" stroke="#80808a" stroke-width="11" stroke-dasharray="1.4 2.5"/>
<path d="M94.9,839.8 L95.0,838.2 L95.1,836.7 L95.2,835.2 L95.3,833.7 L95.5,832.2 L95.8,830.7 L96.1,829.2 L96.4,827.7 L96.8,826.2 L97.2,824.7 L97.6,823.2 L98.1,821.8 L98.7,820.3 L99.2,818.9 L99.8,817.5 L100.5,816.0 L101.2,814.6 L101.9,813.2 L102.7,811.9 L103.5,810.5 L104.4,809.2 L105.2,807.8 L106.2,806.5 L107.1,805.2 L108.1,804.0 L109.1,802.7 L110.2,801.5 L111.3,800.3 L112.4,799.1 L113.6,797.9 L114.8,796.7 L116.0,795.6 L117.3,794.5 L118.6,793.4 L119.9,792.4 L121.2,791.3 L122.6,790.3 L124.0,789.4 L125.4,788.4 L126.9,787.5 L128.4,786.6 L129.9,785.7 L131.4,784.8 L133.0,784.0 L134.5,783.2 L136.1,782.5 L137.7,781.7 L139.4,781.0 L141.0,780.4 L142.7,779.7 L144.4,779.1 L146.1,778.5 L147.8,778.0 L149.5,777.4 L151.3,777.0 L153.0,776.5 L154.8,776.1 L156.6,775.7 L158.4,775.3 L160.2,775.0 L162.0,774.7 L163.8,774.4 L165.6,774.2 L167.4,774.0 L169.3,773.8 L171.1,773.7 L172.9,773.6 L174.8,773.5 L176.6,773.5 L178.4,773.5 L180.2,773.5 L182.1,773.6 L183.9,773.7 L185.7,773.8 L187.5,773.9 L189.4,774.1 L191.2,774.4 L193.0,774.6 L194.7,774.9 L196.5,775.2 L198.3,775.6 L200.0,775.9 L201.8,776.3 L203.5,776.8 L205.2,777.3 L206.9,777.8 L208.6,778.3 L210.3,778.8 L211.9,779.4 L213.6,780.1 L215.2,780.7 L216.8,781.4 L218.4,782.1 L219.9,782.8 L221.4,783.6 L222.9,784.3 L224.4,785.2 L225.9,786.0 L227.3,786.8 L228.7,787.7 L230.1,788.6 L231.5,789.6 L232.8,790.5 L234.1,791.5 L235.4,792.5 L236.6,793.5 L237.8,794.6 L239.0,795.6 L240.1,796.7 L241.3,797.8 L242.3,798.9 L243.4,800.1 L244.4,801.2 L245.4,802.4 L246.4,803.6 L247.3,804.8 L248.1,806.0 L249.0,807.2 L249.8,808.5 L250.6,809.7 L251.3,811.0 L252.0,812.3 L252.7,813.6 L253.3,814.9 L253.9,816.2 L254.4,817.5 L254.9,818.9 L255.4,820.2 L255.9,821.5 L256.2,822.9 L256.6,824.3 L256.9,825.6 L257.2,827.0 L257.4,828.4 L257.6,829.7 L257.8,831.1 L257.9,832.5 L258.0,833.9 L258.0,835.2 L258.0,836.6" fill="none" stroke="#ffffff" stroke-width="3.2" stroke-opacity="0.55" stroke-linejoin="round"/>
<path d="M258.0,836.6 L258.0,838.0 L257.9,839.4 L257.8,840.7 L257.6,842.1 L257.4,843.5 L257.1,844.8 L256.8,846.2 L256.5,847.5 L256.2,848.9 L255.8,850.2 L255.3,851.5 L254.8,852.9 L254.3,854.2 L253.8,855.5 L253.2,856.7 L252.6,858.0 L251.9,859.3 L251.2,860.5 L250.5,861.8 L249.7,863.0 L248.9,864.2 L248.1,865.4 L247.2,866.6 L246.3,867.7 L245.4,868.9 L244.4,870.0 L243.4,871.1 L242.4,872.2 L241.3,873.3 L240.3,874.3 L239.1,875.3 L238.0,876.4 L236.8,877.3 L235.6,878.3 L234.4,879.3 L233.2,880.2 L231.9,881.1 L230.6,882.0 L229.3,882.8 L227.9,883.7 L226.6,884.5 L225.2,885.2 L223.8,886.0 L222.4,886.7 L220.9,887.4 L219.4,888.1 L218.0,888.8 L216.5,889.4 L214.9,890.0 L213.4,890.6 L211.9,891.1 L210.3,891.6 L208.7,892.1 L207.1,892.6 L205.5,893.0 L203.9,893.4 L202.3,893.8 L200.7,894.1 L199.1,894.5 L197.4,894.8 L195.8,895.0 L194.1,895.2 L192.5,895.4 L190.8,895.6 L189.1,895.8 L187.5,895.9 L185.8,896.0 L184.1,896.0 L182.5,896.0 L180.8,896.0 L179.1,896.0 L177.5,895.9 L175.8,895.8 L174.1,895.7 L172.5,895.6 L170.9,895.4 L169.2,895.2 L167.6,895.0 L166.0,894.7 L164.4,894.4 L162.8,894.1 L161.2,893.7 L159.6,893.3 L158.0,892.9 L156.5,892.5 L154.9,892.1 L153.4,891.6 L151.9,891.1 L150.4,890.5 L148.9,890.0 L147.5,889.4 L146.0,888.8 L144.6,888.1 L143.2,887.5 L141.8,886.8 L140.5,886.1 L139.1,885.3 L137.8,884.6 L136.5,883.8 L135.3,883.0 L134.0,882.2 L132.8,881.3 L131.6,880.5 L130.4,879.6 L129.3,878.7 L128.2,877.8 L127.1,876.8 L126.0,875.9 L125.0,874.9 L124.0,873.9 L123.0,872.9 L122.1,871.9 L121.2,870.8 L120.3,869.8 L119.4,868.7 L118.6,867.6 L117.8,866.5 L117.1,865.4 L116.3,864.3 L115.6,863.1 L115.0,862.0 L114.4,860.8 L113.8,859.7 L113.2,858.5 L112.7,857.3 L112.2,856.1 L111.7,854.9 L111.3,853.7 L110.9,852.5 L110.6,851.3 L110.3,850.1 L110.0,848.9 L109.7,847.6 L109.5,846.4 L109.3,845.2 L109.2,843.9 L109.1,842.7 L109.0,841.5 L109.0,840.2 L109.0,839.0" fill="none" stroke="#161618" stroke-width="14" stroke-linejoin="round"/>
<path d="M258.0,836.6 L258.0,838.0 L257.9,839.4 L257.8,840.7 L257.6,842.1 L257.4,843.5 L257.1,844.8 L256.8,846.2 L256.5,847.5 L256.2,848.9 L255.8,850.2 L255.3,851.5 L254.8,852.9 L254.3,854.2 L253.8,855.5 L253.2,856.7 L252.6,858.0 L251.9,859.3 L251.2,860.5 L250.5,861.8 L249.7,863.0 L248.9,864.2 L248.1,865.4 L247.2,866.6 L246.3,867.7 L245.4,868.9 L244.4,870.0 L243.4,871.1 L242.4,872.2 L241.3,873.3 L240.3,874.3 L239.1,875.3 L238.0,876.4 L236.8,877.3 L235.6,878.3 L234.4,879.3 L233.2,880.2 L231.9,881.1 L230.6,882.0 L229.3,882.8 L227.9,883.7 L226.6,884.5 L225.2,885.2 L223.8,886.0 L222.4,886.7 L220.9,887.4 L219.4,888.1 L218.0,888.8 L216.5,889.4 L214.9,890.0 L213.4,890.6 L211.9,891.1 L210.3,891.6 L208.7,892.1 L207.1,892.6 L205.5,893.0 L203.9,893.4 L202.3,893.8 L200.7,894.1 L199.1,894.5 L197.4,894.8 L195.8,895.0 L194.1,895.2 L192.5,895.4 L190.8,895.6 L189.1,895.8 L187.5,895.9 L185.8,896.0 L184.1,896.0 L182.5,896.0 L180.8,896.0 L179.1,896.0 L177.5,895.9 L175.8,895.8 L174.1,895.7 L172.5,895.6 L170.9,895.4 L169.2,895.2 L167.6,895.0 L166.0,894.7 L164.4,894.4 L162.8,894.1 L161.2,893.7 L159.6,893.3 L158.0,892.9 L156.5,892.5 L154.9,892.1 L153.4,891.6 L151.9,891.1 L150.4,890.5 L148.9,890.0 L147.5,889.4 L146.0,888.8 L144.6,888.1 L143.2,887.5 L141.8,886.8 L140.5,886.1 L139.1,885.3 L137.8,884.6 L136.5,883.8 L135.3,883.0 L134.0,882.2 L132.8,881.3 L131.6,880.5 L130.4,879.6 L129.3,878.7 L128.2,877.8 L127.1,876.8 L126.0,875.9 L125.0,874.9 L124.0,873.9 L123.0,872.9 L122.1,871.9 L121.2,870.8 L120.3,869.8 L119.4,868.7 L118.6,867.6 L117.8,866.5 L117.1,865.4 L116.3,864.3 L115.6,863.1 L115.0,862.0 L114.4,860.8 L113.8,859.7 L113.2,858.5 L112.7,857.3 L112.2,856.1 L111.7,854.9 L111.3,853.7 L110.9,852.5 L110.6,851.3 L110.3,850.1 L110.0,848.9 L109.7,847.6 L109.5,846.4 L109.3,845.2 L109.2,843.9 L109.1,842.7 L109.0,841.5 L109.0,840.2 L109.0,839.0" fill="none" stroke="#e4e4e8" stroke-width="11" stroke-linejoin="round"/>
<path d="M258.0,836.6 L258.0,838.0 L257.9,839.4 L257.8,840.7 L257.6,842.1 L257.4,843.5 L257.1,844.8 L256.8,846.2 L256.5,847.5 L256.2,848.9 L255.8,850.2 L255.3,851.5 L254.8,852.9 L254.3,854.2 L253.8,855.5 L253.2,856.7 L252.6,858.0 L251.9,859.3 L251.2,860.5 L250.5,861.8 L249.7,863.0 L248.9,864.2 L248.1,865.4 L247.2,866.6 L246.3,867.7 L245.4,868.9 L244.4,870.0 L243.4,871.1 L242.4,872.2 L241.3,873.3 L240.3,874.3 L239.1,875.3 L238.0,876.4 L236.8,877.3 L235.6,878.3 L234.4,879.3 L233.2,880.2 L231.9,881.1 L230.6,882.0 L229.3,882.8 L227.9,883.7 L226.6,884.5 L225.2,885.2 L223.8,886.0 L222.4,886.7 L220.9,887.4 L219.4,888.1 L218.0,888.8 L216.5,889.4 L214.9,890.0 L213.4,890.6 L211.9,891.1 L210.3,891.6 L208.7,892.1 L207.1,892.6 L205.5,893.0 L203.9,893.4 L202.3,893.8 L200.7,894.1 L199.1,894.5 L197.4,894.8 L195.8,895.0 L194.1,895.2 L192.5,895.4 L190.8,895.6 L189.1,895.8 L187.5,895.9 L185.8,896.0 L184.1,896.0 L182.5,896.0 L180.8,896.0 L179.1,896.0 L177.5,895.9 L175.8,895.8 L174.1,895.7 L172.5,895.6 L170.9,895.4 L169.2,895.2 L167.6,895.0 L166.0,894.7 L164.4,894.4 L162.8,894.1 L161.2,893.7 L159.6,893.3 L158.0,892.9 L156.5,892.5 L154.9,892.1 L153.4,891.6 L151.9,891.1 L150.4,890.5 L148.9,890.0 L147.5,889.4 L146.0,888.8 L144.6,888.1 L143.2,887.5 L141.8,886.8 L140.5,886.1 L139.1,885.3 L137.8,884.6 L136.5,883.8 L135.3,883.0 L134.0,882.2 L132.8,881.3 L131.6,880.5 L130.4,879.6 L129.3,878.7 L128.2,877.8 L127.1,876.8 L126.0,875.9 L125.0,874.9 L124.0,873.9 L123.0,872.9 L122.1,871.9 L121.2,870.8 L120.3,869.8 L119.4,868.7 L118.6,867.6 L117.8,866.5 L117.1,865.4 L116.3,864.3 L115.6,863.1 L115.0,862.0 L114.4,860.8 L113.8,859.7 L113.2,858.5 L112.7,857.3 L112.2,856.1 L111.7,854.9 L111.3,853.7 L110.9,852.5 L110.6,851.3 L110.3,850.1 L110.0,848.9 L109.7,847.6 L109.5,846.4 L109.3,845.2 L109.2,843.9 L109.1,842.7 L109.0,841.5 L109.0,840.2 L109.0,839.0" fill="none" stroke="#80808a" stroke-width="11" stroke-dasharray="1.4 2.5"/>
<path d="M258.0,836.6 L258.0,838.0 L257.9,839.4 L257.8,840.7 L257.6,842.1 L257.4,843.5 L257.1,844.8 L256.8,846.2 L256.5,847.5 L256.2,848.9 L255.8,850.2 L255.3,851.5 L254.8,852.9 L254.3,854.2 L253.8,855.5 L253.2,856.7 L252.6,858.0 L251.9,859.3 L251.2,860.5 L250.5,861.8 L249.7,863.0 L248.9,864.2 L248.1,865.4 L247.2,866.6 L246.3,867.7 L245.4,868.9 L244.4,870.0 L243.4,871.1 L242.4,872.2 L241.3,873.3 L240.3,874.3 L239.1,875.3 L238.0,876.4 L236.8,877.3 L235.6,878.3 L234.4,879.3 L233.2,880.2 L231.9,881.1 L230.6,882.0 L229.3,882.8 L227.9,883.7 L226.6,884.5 L225.2,885.2 L223.8,886.0 L222.4,886.7 L220.9,887.4 L219.4,888.1 L218.0,888.8 L216.5,889.4 L214.9,890.0 L213.4,890.6 L211.9,891.1 L210.3,891.6 L208.7,892.1 L207.1,892.6 L205.5,893.0 L203.9,893.4 L202.3,893.8 L200.7,894.1 L199.1,894.5 L197.4,894.8 L195.8,895.0 L194.1,895.2 L192.5,895.4 L190.8,895.6 L189.1,895.8 L187.5,895.9 L185.8,896.0 L184.1,896.0 L182.5,896.0 L180.8,896.0 L179.1,896.0 L177.5,895.9 L175.8,895.8 L174.1,895.7 L172.5,895.6 L170.9,895.4 L169.2,895.2 L167.6,895.0 L166.0,894.7 L164.4,894.4 L162.8,894.1 L161.2,893.7 L159.6,893.3 L158.0,892.9 L156.5,892.5 L154.9,892.1 L153.4,891.6 L151.9,891.1 L150.4,890.5 L148.9,890.0 L147.5,889.4 L146.0,888.8 L144.6,888.1 L143.2,887.5 L141.8,886.8 L140.5,886.1 L139.1,885.3 L137.8,884.6 L136.5,883.8 L135.3,883.0 L134.0,882.2 L132.8,881.3 L131.6,880.5 L130.4,879.6 L129.3,878.7 L128.2,877.8 L127.1,876.8 L126.0,875.9 L125.0,874.9 L124.0,873.9 L123.0,872.9 L122.1,871.9 L121.2,870.8 L120.3,869.8 L119.4,868.7 L118.6,867.6 L117.8,866.5 L117.1,865.4 L116.3,864.3 L115.6,863.1 L115.0,862.0 L114.4,860.8 L113.8,859.7 L113.2,858.5 L112.7,857.3 L112.2,856.1 L111.7,854.9 L111.3,853.7 L110.9,852.5 L110.6,851.3 L110.3,850.1 L110.0,848.9 L109.7,847.6 L109.5,846.4 L109.3,845.2 L109.2,843.9 L109.1,842.7 L109.0,841.5 L109.0,840.2 L109.0,839.0" fill="none" stroke="#ffffff" stroke-width="3.2" stroke-opacity="0.55" stroke-linejoin="round"/>
<path d="M109.0,839.0 L109.0,837.8 L109.1,836.5 L109.2,835.3 L109.3,834.1 L109.5,832.8 L109.7,831.6 L109.9,830.4 L110.2,829.2 L110.5,828.0 L110.8,826.8 L111.2,825.6 L111.6,824.4 L112.1,823.3 L112.5,822.1 L113.0,821.0 L113.6,819.8 L114.2,818.7 L114.8,817.6 L115.4,816.5 L116.0,815.4 L116.7,814.3 L117.5,813.2 L118.2,812.2 L119.0,811.2 L119.8,810.1 L120.6,809.1 L121.5,808.1 L122.4,807.2 L123.3,806.2 L124.2,805.3 L125.2,804.4 L126.2,803.4 L127.2,802.6 L128.2,801.7 L129.3,800.9 L130.4,800.0 L131.5,799.2 L132.6,798.4 L133.8,797.7 L134.9,796.9 L136.1,796.2 L137.3,795.5 L138.6,794.9 L139.8,794.2 L141.1,793.6 L142.3,793.0 L143.6,792.4 L144.9,791.8 L146.3,791.3 L147.6,790.8 L148.9,790.3 L150.3,789.9 L151.7,789.4 L153.0,789.0 L154.4,788.6 L155.8,788.3 L157.2,787.9 L158.6,787.6 L160.1,787.3 L161.5,787.1 L162.9,786.9 L164.4,786.7 L165.8,786.5 L167.2,786.3 L168.7,786.2 L170.1,786.1 L171.6,786.0 L173.0,786.0 L174.5,786.0 L175.9,786.0 L177.4,786.0 L178.8,786.1 L180.3,786.1 L181.7,786.3 L183.1,786.4 L184.5,786.5 L186.0,786.7 L187.4,786.9 L188.8,787.2 L190.2,787.4 L191.5,787.7 L192.9,788.0 L194.3,788.4 L195.6,788.7 L197.0,789.1 L198.3,789.5 L199.6,790.0 L200.9,790.4 L202.2,790.9 L203.5,791.4 L204.7,791.9 L206.0,792.5 L207.2,793.0 L208.4,793.6 L209.6,794.2 L210.7,794.9 L211.9,795.5 L213.0,796.2 L214.1,796.9 L215.2,797.6 L216.3,798.3 L217.3,799.0 L218.3,799.8 L219.3,800.6 L220.3,801.4 L221.3,802.2 L222.2,803.0 L223.1,803.9 L224.0,804.8 L224.8,805.6 L225.6,806.5 L226.4,807.4 L227.2,808.4 L228.0,809.3 L228.7,810.2 L229.4,811.2 L230.0,812.2 L230.7,813.1 L231.3,814.1 L231.8,815.1 L232.4,816.1 L232.9,817.2 L233.4,818.2 L233.8,819.2 L234.3,820.3 L234.7,821.3 L235.0,822.4 L235.4,823.4 L235.7,824.5 L236.0,825.6 L236.2,826.7 L236.4,827.7 L236.6,828.8 L236.8,829.9 L236.9,831.0 L237.0,832.1 L237.1,833.2 L237.1,834.2 L237.1,835.3 L237.1,836.4" fill="none" stroke="#161618" stroke-width="14" stroke-linejoin="round"/>
<path d="M109.0,839.0 L109.0,837.8 L109.1,836.5 L109.2,835.3 L109.3,834.1 L109.5,832.8 L109.7,831.6 L109.9,830.4 L110.2,829.2 L110.5,828.0 L110.8,826.8 L111.2,825.6 L111.6,824.4 L112.1,823.3 L112.5,822.1 L113.0,821.0 L113.6,819.8 L114.2,818.7 L114.8,817.6 L115.4,816.5 L116.0,815.4 L116.7,814.3 L117.5,813.2 L118.2,812.2 L119.0,811.2 L119.8,810.1 L120.6,809.1 L121.5,808.1 L122.4,807.2 L123.3,806.2 L124.2,805.3 L125.2,804.4 L126.2,803.4 L127.2,802.6 L128.2,801.7 L129.3,800.9 L130.4,800.0 L131.5,799.2 L132.6,798.4 L133.8,797.7 L134.9,796.9 L136.1,796.2 L137.3,795.5 L138.6,794.9 L139.8,794.2 L141.1,793.6 L142.3,793.0 L143.6,792.4 L144.9,791.8 L146.3,791.3 L147.6,790.8 L148.9,790.3 L150.3,789.9 L151.7,789.4 L153.0,789.0 L154.4,788.6 L155.8,788.3 L157.2,787.9 L158.6,787.6 L160.1,787.3 L161.5,787.1 L162.9,786.9 L164.4,786.7 L165.8,786.5 L167.2,786.3 L168.7,786.2 L170.1,786.1 L171.6,786.0 L173.0,786.0 L174.5,786.0 L175.9,786.0 L177.4,786.0 L178.8,786.1 L180.3,786.1 L181.7,786.3 L183.1,786.4 L184.5,786.5 L186.0,786.7 L187.4,786.9 L188.8,787.2 L190.2,787.4 L191.5,787.7 L192.9,788.0 L194.3,788.4 L195.6,788.7 L197.0,789.1 L198.3,789.5 L199.6,790.0 L200.9,790.4 L202.2,790.9 L203.5,791.4 L204.7,791.9 L206.0,792.5 L207.2,793.0 L208.4,793.6 L209.6,794.2 L210.7,794.9 L211.9,795.5 L213.0,796.2 L214.1,796.9 L215.2,797.6 L216.3,798.3 L217.3,799.0 L218.3,799.8 L219.3,800.6 L220.3,801.4 L221.3,802.2 L222.2,803.0 L223.1,803.9 L224.0,804.8 L224.8,805.6 L225.6,806.5 L226.4,807.4 L227.2,808.4 L228.0,809.3 L228.7,810.2 L229.4,811.2 L230.0,812.2 L230.7,813.1 L231.3,814.1 L231.8,815.1 L232.4,816.1 L232.9,817.2 L233.4,818.2 L233.8,819.2 L234.3,820.3 L234.7,821.3 L235.0,822.4 L235.4,823.4 L235.7,824.5 L236.0,825.6 L236.2,826.7 L236.4,827.7 L236.6,828.8 L236.8,829.9 L236.9,831.0 L237.0,832.1 L237.1,833.2 L237.1,834.2 L237.1,835.3 L237.1,836.4" fill="none" stroke="#e4e4e8" stroke-width="11" stroke-linejoin="round"/>
<path d="M109.0,839.0 L109.0,837.8 L109.1,836.5 L109.2,835.3 L109.3,834.1 L109.5,832.8 L109.7,831.6 L109.9,830.4 L110.2,829.2 L110.5,828.0 L110.8,826.8 L111.2,825.6 L111.6,824.4 L112.1,823.3 L112.5,822.1 L113.0,821.0 L113.6,819.8 L114.2,818.7 L114.8,817.6 L115.4,816.5 L116.0,815.4 L116.7,814.3 L117.5,813.2 L118.2,812.2 L119.0,811.2 L119.8,810.1 L120.6,809.1 L121.5,808.1 L122.4,807.2 L123.3,806.2 L124.2,805.3 L125.2,804.4 L126.2,803.4 L127.2,802.6 L128.2,801.7 L129.3,800.9 L130.4,800.0 L131.5,799.2 L132.6,798.4 L133.8,797.7 L134.9,796.9 L136.1,796.2 L137.3,795.5 L138.6,794.9 L139.8,794.2 L141.1,793.6 L142.3,793.0 L143.6,792.4 L144.9,791.8 L146.3,791.3 L147.6,790.8 L148.9,790.3 L150.3,789.9 L151.7,789.4 L153.0,789.0 L154.4,788.6 L155.8,788.3 L157.2,787.9 L158.6,787.6 L160.1,787.3 L161.5,787.1 L162.9,786.9 L164.4,786.7 L165.8,786.5 L167.2,786.3 L168.7,786.2 L170.1,786.1 L171.6,786.0 L173.0,786.0 L174.5,786.0 L175.9,786.0 L177.4,786.0 L178.8,786.1 L180.3,786.1 L181.7,786.3 L183.1,786.4 L184.5,786.5 L186.0,786.7 L187.4,786.9 L188.8,787.2 L190.2,787.4 L191.5,787.7 L192.9,788.0 L194.3,788.4 L195.6,788.7 L197.0,789.1 L198.3,789.5 L199.6,790.0 L200.9,790.4 L202.2,790.9 L203.5,791.4 L204.7,791.9 L206.0,792.5 L207.2,793.0 L208.4,793.6 L209.6,794.2 L210.7,794.9 L211.9,795.5 L213.0,796.2 L214.1,796.9 L215.2,797.6 L216.3,798.3 L217.3,799.0 L218.3,799.8 L219.3,800.6 L220.3,801.4 L221.3,802.2 L222.2,803.0 L223.1,803.9 L224.0,804.8 L224.8,805.6 L225.6,806.5 L226.4,807.4 L227.2,808.4 L228.0,809.3 L228.7,810.2 L229.4,811.2 L230.0,812.2 L230.7,813.1 L231.3,814.1 L231.8,815.1 L232.4,816.1 L232.9,817.2 L233.4,818.2 L233.8,819.2 L234.3,820.3 L234.7,821.3 L235.0,822.4 L235.4,823.4 L235.7,824.5 L236.0,825.6 L236.2,826.7 L236.4,827.7 L236.6,828.8 L236.8,829.9 L236.9,831.0 L237.0,832.1 L237.1,833.2 L237.1,834.2 L237.1,835.3 L237.1,836.4" fill="none" stroke="#80808a" stroke-width="11" stroke-dasharray="1.4 2.5"/>
<path d="M109.0,839.0 L109.0,837.8 L109.1,836.5 L109.2,835.3 L109.3,834.1 L109.5,832.8 L109.7,831.6 L109.9,830.4 L110.2,829.2 L110.5,828.0 L110.8,826.8 L111.2,825.6 L111.6,824.4 L112.1,823.3 L112.5,822.1 L113.0,821.0 L113.6,819.8 L114.2,818.7 L114.8,817.6 L115.4,816.5 L116.0,815.4 L116.7,814.3 L117.5,813.2 L118.2,812.2 L119.0,811.2 L119.8,810.1 L120.6,809.1 L121.5,808.1 L122.4,807.2 L123.3,806.2 L124.2,805.3 L125.2,804.4 L126.2,803.4 L127.2,802.6 L128.2,801.7 L129.3,800.9 L130.4,800.0 L131.5,799.2 L132.6,798.4 L133.8,797.7 L134.9,796.9 L136.1,796.2 L137.3,795.5 L138.6,794.9 L139.8,794.2 L141.1,793.6 L142.3,793.0 L143.6,792.4 L144.9,791.8 L146.3,791.3 L147.6,790.8 L148.9,790.3 L150.3,789.9 L151.7,789.4 L153.0,789.0 L154.4,788.6 L155.8,788.3 L157.2,787.9 L158.6,787.6 L160.1,787.3 L161.5,787.1 L162.9,786.9 L164.4,786.7 L165.8,786.5 L167.2,786.3 L168.7,786.2 L170.1,786.1 L171.6,786.0 L173.0,786.0 L174.5,786.0 L175.9,786.0 L177.4,786.0 L178.8,786.1 L180.3,786.1 L181.7,786.3 L183.1,786.4 L184.5,786.5 L186.0,786.7 L187.4,786.9 L188.8,787.2 L190.2,787.4 L191.5,787.7 L192.9,788.0 L194.3,788.4 L195.6,788.7 L197.0,789.1 L198.3,789.5 L199.6,790.0 L200.9,790.4 L202.2,790.9 L203.5,791.4 L204.7,791.9 L206.0,792.5 L207.2,793.0 L208.4,793.6 L209.6,794.2 L210.7,794.9 L211.9,795.5 L213.0,796.2 L214.1,796.9 L215.2,797.6 L216.3,798.3 L217.3,799.0 L218.3,799.8 L219.3,800.6 L220.3,801.4 L221.3,802.2 L222.2,803.0 L223.1,803.9 L224.0,804.8 L224.8,805.6 L225.6,806.5 L226.4,807.4 L227.2,808.4 L228.0,809.3 L228.7,810.2 L229.4,811.2 L230.0,812.2 L230.7,813.1 L231.3,814.1 L231.8,815.1 L232.4,816.1 L232.9,817.2 L233.4,818.2 L233.8,819.2 L234.3,820.3 L234.7,821.3 L235.0,822.4 L235.4,823.4 L235.7,824.5 L236.0,825.6 L236.2,826.7 L236.4,827.7 L236.6,828.8 L236.8,829.9 L236.9,831.0 L237.0,832.1 L237.1,833.2 L237.1,834.2 L237.1,835.3 L237.1,836.4" fill="none" stroke="#ffffff" stroke-width="3.2" stroke-opacity="0.55" stroke-linejoin="round"/>
<path d="M237.1,836.4 L237.0,837.5 L237.0,856.0" fill="none" stroke="#161618" stroke-width="14" stroke-linejoin="round"/>
<path d="M237.1,836.4 L237.0,837.5 L237.0,856.0" fill="none" stroke="#e4e4e8" stroke-width="11" stroke-linejoin="round"/>
<path d="M237.1,836.4 L237.0,837.5 L237.0,856.0" fill="none" stroke="#80808a" stroke-width="11" stroke-dasharray="1.4 2.5"/>
<path d="M237.1,836.4 L237.0,837.5 L237.0,856.0" fill="none" stroke="#ffffff" stroke-width="3.2" stroke-opacity="0.55" stroke-linejoin="round"/>
<rect x="59.8" y="846" width="22" height="22" fill="url(#chromeH)"/>
<rect x="59.3" y="855.9" width="23" height="12.1" fill="url(#chromeH)"/>
<ellipse cx="70.8" cy="868" rx="11.5" ry="7" fill="#2c52c0"/>
<ellipse cx="70.8" cy="868.5" rx="7" ry="3.6" fill="#1a3490"/>
<ellipse cx="70.8" cy="868.5" rx="3.5" ry="1.8" fill="#2c52c0"/>
<rect x="226" y="855" width="22" height="14" fill="url(#chromeH)"/>
<rect x="225.5" y="861.3" width="23" height="7.7" fill="url(#chromeH)"/>
<ellipse cx="237" cy="869" rx="11.5" ry="7" fill="#2c52c0"/>
<ellipse cx="237" cy="869.5" rx="7" ry="3.6" fill="#1a3490"/>
<ellipse cx="237" cy="869.5" rx="3.5" ry="1.8" fill="#2c52c0"/>
<rect x="427.5" y="336.9" width="167.2" height="3.2" fill="url(#gline)"/>
<rect x="226.4" y="681.4" width="167.2" height="3.2" fill="url(#gline)"/>
<rect x="782" y="619.4" width="167.6" height="3.2" fill="url(#gline)"/>
<rect x="95" y="975.8" width="167.4" height="3.2" fill="url(#gline)"/>
<rect x="353.6" y="975.8" width="163.4" height="3.2" fill="url(#gline)"/>
<rect x="549.7" y="973.4" width="167.3" height="3.2" fill="url(#gline)"/>
<rect x="748.8" y="975.4" width="190.2" height="3.2" fill="url(#gline)"/>
<text class="lb" x="439.6" y="324.4" font-size="25" font-weight="normal" textLength="142.4" lengthAdjust="spacingAndGlyphs" stroke="#fff" stroke-width="0.45">Shower head</text>
<text class="lb" x="238" y="668.4" font-size="24.5" font-weight="normal" textLength="143.6" lengthAdjust="spacingAndGlyphs" stroke="#fff" stroke-width="0.45">Hand shower</text>
<text class="lb" x="797.6" y="604" font-size="27" font-weight="bold" textLength="130.4" lengthAdjust="spacingAndGlyphs" stroke="#fff" stroke-width="0.2">Shower jets</text>
<text class="lb" x="110" y="961" font-size="24.5" font-weight="normal" textLength="140" lengthAdjust="spacingAndGlyphs" stroke="#fff" stroke-width="0.45">Shower hose</text>
<text class="lb" x="373" y="960.6" font-size="24" font-weight="normal" textLength="134" lengthAdjust="spacingAndGlyphs" stroke="#fff" stroke-width="0.45">Lower spout</text>
<text class="lb" x="534.3" y="960.7" font-size="24.5" font-weight="normal" textLength="192.5" lengthAdjust="spacingAndGlyphs" stroke="#fff" stroke-width="0.45">Shower controller</text>
<text class="lb" x="757.6" y="961" font-size="24.5" font-weight="normal" textLength="159.4" lengthAdjust="spacingAndGlyphs" stroke="#fff" stroke-width="0.45">Shower holder</text>
</svg></body></html>
